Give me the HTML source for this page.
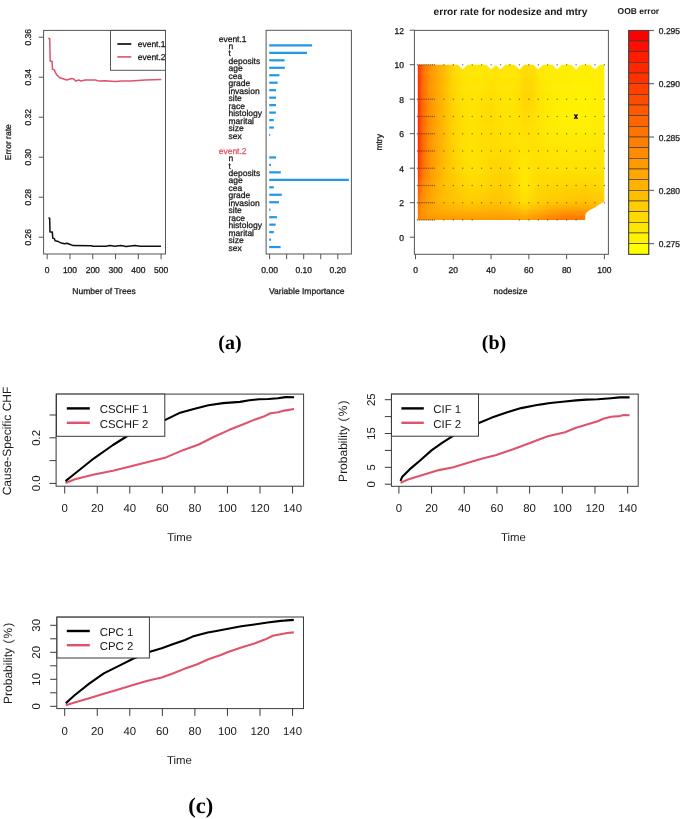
<!DOCTYPE html>
<html><head><meta charset="utf-8"><title>figure</title>
<style>html,body{margin:0;padding:0;background:#fff;width:685px;height:819px;overflow:hidden}svg{display:block}</style>
</head><body>
<svg width="685" height="819" viewBox="0 0 685 819" font-family="Liberation Sans, sans-serif" text-rendering="geometricPrecision">
<rect width="685" height="819" fill="#fff"/>
<defs><filter id="bt" x="-2%" y="-2%" width="104%" height="104%"><feGaussianBlur stdDeviation="0.5"/></filter><filter id="bb" x="-2%" y="-2%" width="104%" height="104%"><feGaussianBlur stdDeviation="0.3"/></filter></defs>
<g filter="url(#bt)">
<rect x="43.6" y="30.4" width="121.9" height="223.6" fill="none" stroke="#555" stroke-width="1"/>
<line x1="38.7" y1="237.2" x2="43.6" y2="237.2" stroke="#555" stroke-width="1"/>
<text x="31.34" y="237.2" font-size="8.5" text-anchor="middle" fill="#1a1a1a" stroke="#1a1a1a" stroke-width="0.28" font-family="Liberation Sans" transform="rotate(-90 31.34 237.2)">0.26</text>
<line x1="38.7" y1="197.2" x2="43.6" y2="197.2" stroke="#555" stroke-width="1"/>
<text x="31.34" y="197.2" font-size="8.5" text-anchor="middle" fill="#1a1a1a" stroke="#1a1a1a" stroke-width="0.28" font-family="Liberation Sans" transform="rotate(-90 31.34 197.2)">0.28</text>
<line x1="38.7" y1="157.2" x2="43.6" y2="157.2" stroke="#555" stroke-width="1"/>
<text x="31.34" y="157.2" font-size="8.5" text-anchor="middle" fill="#1a1a1a" stroke="#1a1a1a" stroke-width="0.28" font-family="Liberation Sans" transform="rotate(-90 31.34 157.2)">0.30</text>
<line x1="38.7" y1="117.2" x2="43.6" y2="117.2" stroke="#555" stroke-width="1"/>
<text x="31.34" y="117.2" font-size="8.5" text-anchor="middle" fill="#1a1a1a" stroke="#1a1a1a" stroke-width="0.28" font-family="Liberation Sans" transform="rotate(-90 31.34 117.2)">0.32</text>
<line x1="38.7" y1="77.2" x2="43.6" y2="77.2" stroke="#555" stroke-width="1"/>
<text x="31.34" y="77.2" font-size="8.5" text-anchor="middle" fill="#1a1a1a" stroke="#1a1a1a" stroke-width="0.28" font-family="Liberation Sans" transform="rotate(-90 31.34 77.2)">0.34</text>
<line x1="38.7" y1="37.2" x2="43.6" y2="37.2" stroke="#555" stroke-width="1"/>
<text x="31.34" y="37.2" font-size="8.5" text-anchor="middle" fill="#1a1a1a" stroke="#1a1a1a" stroke-width="0.28" font-family="Liberation Sans" transform="rotate(-90 31.34 37.2)">0.36</text>
<text x="10.74" y="142.2" font-size="8.5" text-anchor="middle" fill="#1a1a1a" stroke="#1a1a1a" stroke-width="0.28" font-family="Liberation Sans" transform="rotate(-90 10.74 142.2)">Error rate</text>
<line x1="47.2" y1="254" x2="47.2" y2="259.2" stroke="#555" stroke-width="1"/>
<text x="47.2" y="273.04" font-size="8.5" text-anchor="middle" fill="#1a1a1a" stroke="#1a1a1a" stroke-width="0.28" font-family="Liberation Sans">0</text>
<line x1="69.98" y1="254" x2="69.98" y2="259.2" stroke="#555" stroke-width="1"/>
<text x="69.98" y="273.04" font-size="8.5" text-anchor="middle" fill="#1a1a1a" stroke="#1a1a1a" stroke-width="0.28" font-family="Liberation Sans">100</text>
<line x1="92.76" y1="254" x2="92.76" y2="259.2" stroke="#555" stroke-width="1"/>
<text x="92.76" y="273.04" font-size="8.5" text-anchor="middle" fill="#1a1a1a" stroke="#1a1a1a" stroke-width="0.28" font-family="Liberation Sans">200</text>
<line x1="115.54" y1="254" x2="115.54" y2="259.2" stroke="#555" stroke-width="1"/>
<text x="115.54" y="273.04" font-size="8.5" text-anchor="middle" fill="#1a1a1a" stroke="#1a1a1a" stroke-width="0.28" font-family="Liberation Sans">300</text>
<line x1="138.32" y1="254" x2="138.32" y2="259.2" stroke="#555" stroke-width="1"/>
<text x="138.32" y="273.04" font-size="8.5" text-anchor="middle" fill="#1a1a1a" stroke="#1a1a1a" stroke-width="0.28" font-family="Liberation Sans">400</text>
<line x1="161.1" y1="254" x2="161.1" y2="259.2" stroke="#555" stroke-width="1"/>
<text x="161.1" y="273.04" font-size="8.5" text-anchor="middle" fill="#1a1a1a" stroke="#1a1a1a" stroke-width="0.28" font-family="Liberation Sans">500</text>
<text x="104" y="293.64" font-size="8.5" text-anchor="middle" fill="#1a1a1a" stroke="#1a1a1a" stroke-width="0.28" font-family="Liberation Sans">Number of Trees</text>
<rect x="110.5" y="30.4" width="55" height="39.9" fill="none" stroke="#555" stroke-width="1"/>
<line x1="117.3" y1="44" x2="131.3" y2="44" stroke="#000" stroke-width="1.6"/>
<line x1="117.3" y1="56.9" x2="131.3" y2="56.9" stroke="#DF536B" stroke-width="1.6"/>
<text x="137.7" y="47.04" font-size="8.5" text-anchor="start" fill="#1a1a1a" stroke="#1a1a1a" stroke-width="0.28" font-family="Liberation Sans">event.1</text>
<text x="137.7" y="59.94" font-size="8.5" text-anchor="start" fill="#1a1a1a" stroke="#1a1a1a" stroke-width="0.28" font-family="Liberation Sans">event.2</text>
<polyline points="48.4,218 49.7,218.2 50,232 52.3,232 52.8,238.1 54.3,238.6 55.1,240.7 57.4,241.2 60.4,242.7 64.5,243.7 67.1,243.2 69.6,244.2 73.2,245.6 91.1,245.8 93.1,246.3 100,246.3 106,246.3 110,245.6 115,246.3 121,245.6 126,246.4 135,245.6 140,246.3 150,246.3 161,246.2" fill="none" stroke="#111" stroke-width="1.5" stroke-linejoin="round"/>
<polyline points="48.2,38.4 49.7,38.4 50.2,61.2 52.1,61.2 52.5,69.3 54.3,69.9 55.3,72.4 56.9,75 59.4,77.5 66.6,80 71.7,78.5 73.7,79 75.8,81.1 78.8,80 80.9,80.9 85,80 95.2,80 99.3,81.1 105,80.8 115,81.5 122,80.9 130,81 138,80.4 145,80.1 153,79.7 161.3,79.6" fill="none" stroke="#DF536B" stroke-width="1.5" stroke-linejoin="round"/>
<rect x="266.1" y="30.3" width="85.3" height="223.7" fill="none" stroke="#555" stroke-width="1"/>
<line x1="269.6" y1="254" x2="269.6" y2="259.2" stroke="#555" stroke-width="1"/>
<line x1="286.65" y1="254" x2="286.65" y2="259.2" stroke="#555" stroke-width="1"/>
<line x1="303.7" y1="254" x2="303.7" y2="259.2" stroke="#555" stroke-width="1"/>
<line x1="320.75" y1="254" x2="320.75" y2="259.2" stroke="#555" stroke-width="1"/>
<line x1="337.8" y1="254" x2="337.8" y2="259.2" stroke="#555" stroke-width="1"/>
<text x="269.6" y="273.14" font-size="8.5" text-anchor="middle" fill="#1a1a1a" stroke="#1a1a1a" stroke-width="0.28" font-family="Liberation Sans">0.00</text>
<text x="303.7" y="273.14" font-size="8.5" text-anchor="middle" fill="#1a1a1a" stroke="#1a1a1a" stroke-width="0.28" font-family="Liberation Sans">0.10</text>
<text x="337.8" y="273.14" font-size="8.5" text-anchor="middle" fill="#1a1a1a" stroke="#1a1a1a" stroke-width="0.28" font-family="Liberation Sans">0.20</text>
<text x="306.8" y="293.74" font-size="8.5" text-anchor="middle" fill="#1a1a1a" stroke="#1a1a1a" stroke-width="0.28" font-family="Liberation Sans">Variable Importance</text>
<text x="218.7" y="41.54" font-size="8.5" text-anchor="start" fill="#1a1a1a" stroke="#1a1a1a" stroke-width="0.28" font-family="Liberation Sans">event.1</text>
<text x="218.7" y="153.59" font-size="8.5" text-anchor="start" fill="#DF536B" stroke="#DF536B" stroke-width="0.28" font-family="Liberation Sans">event.2</text>
<text x="228.5" y="49.01" font-size="8.5" text-anchor="start" fill="#1a1a1a" stroke="#1a1a1a" stroke-width="0.28" font-family="Liberation Sans">n</text>
<text x="228.5" y="161.06" font-size="8.5" text-anchor="start" fill="#1a1a1a" stroke="#1a1a1a" stroke-width="0.28" font-family="Liberation Sans">n</text>
<text x="228.5" y="56.48" font-size="8.5" text-anchor="start" fill="#1a1a1a" stroke="#1a1a1a" stroke-width="0.28" font-family="Liberation Sans">t</text>
<text x="228.5" y="168.53" font-size="8.5" text-anchor="start" fill="#1a1a1a" stroke="#1a1a1a" stroke-width="0.28" font-family="Liberation Sans">t</text>
<text x="228.5" y="63.95" font-size="8.5" text-anchor="start" fill="#1a1a1a" stroke="#1a1a1a" stroke-width="0.28" font-family="Liberation Sans">deposits</text>
<text x="228.5" y="176" font-size="8.5" text-anchor="start" fill="#1a1a1a" stroke="#1a1a1a" stroke-width="0.28" font-family="Liberation Sans">deposits</text>
<text x="228.5" y="71.42" font-size="8.5" text-anchor="start" fill="#1a1a1a" stroke="#1a1a1a" stroke-width="0.28" font-family="Liberation Sans">age</text>
<text x="228.5" y="183.47" font-size="8.5" text-anchor="start" fill="#1a1a1a" stroke="#1a1a1a" stroke-width="0.28" font-family="Liberation Sans">age</text>
<text x="228.5" y="78.89" font-size="8.5" text-anchor="start" fill="#1a1a1a" stroke="#1a1a1a" stroke-width="0.28" font-family="Liberation Sans">cea</text>
<text x="228.5" y="190.94" font-size="8.5" text-anchor="start" fill="#1a1a1a" stroke="#1a1a1a" stroke-width="0.28" font-family="Liberation Sans">cea</text>
<text x="228.5" y="86.36" font-size="8.5" text-anchor="start" fill="#1a1a1a" stroke="#1a1a1a" stroke-width="0.28" font-family="Liberation Sans">grade</text>
<text x="228.5" y="198.41" font-size="8.5" text-anchor="start" fill="#1a1a1a" stroke="#1a1a1a" stroke-width="0.28" font-family="Liberation Sans">grade</text>
<text x="228.5" y="93.83" font-size="8.5" text-anchor="start" fill="#1a1a1a" stroke="#1a1a1a" stroke-width="0.28" font-family="Liberation Sans">invasion</text>
<text x="228.5" y="205.88" font-size="8.5" text-anchor="start" fill="#1a1a1a" stroke="#1a1a1a" stroke-width="0.28" font-family="Liberation Sans">invasion</text>
<text x="228.5" y="101.3" font-size="8.5" text-anchor="start" fill="#1a1a1a" stroke="#1a1a1a" stroke-width="0.28" font-family="Liberation Sans">site</text>
<text x="228.5" y="213.35" font-size="8.5" text-anchor="start" fill="#1a1a1a" stroke="#1a1a1a" stroke-width="0.28" font-family="Liberation Sans">site</text>
<text x="228.5" y="108.77" font-size="8.5" text-anchor="start" fill="#1a1a1a" stroke="#1a1a1a" stroke-width="0.28" font-family="Liberation Sans">race</text>
<text x="228.5" y="220.82" font-size="8.5" text-anchor="start" fill="#1a1a1a" stroke="#1a1a1a" stroke-width="0.28" font-family="Liberation Sans">race</text>
<text x="228.5" y="116.24" font-size="8.5" text-anchor="start" fill="#1a1a1a" stroke="#1a1a1a" stroke-width="0.28" font-family="Liberation Sans">histology</text>
<text x="228.5" y="228.29" font-size="8.5" text-anchor="start" fill="#1a1a1a" stroke="#1a1a1a" stroke-width="0.28" font-family="Liberation Sans">histology</text>
<text x="228.5" y="123.71" font-size="8.5" text-anchor="start" fill="#1a1a1a" stroke="#1a1a1a" stroke-width="0.28" font-family="Liberation Sans">marital</text>
<text x="228.5" y="235.76" font-size="8.5" text-anchor="start" fill="#1a1a1a" stroke="#1a1a1a" stroke-width="0.28" font-family="Liberation Sans">marital</text>
<text x="228.5" y="131.18" font-size="8.5" text-anchor="start" fill="#1a1a1a" stroke="#1a1a1a" stroke-width="0.28" font-family="Liberation Sans">size</text>
<text x="228.5" y="243.23" font-size="8.5" text-anchor="start" fill="#1a1a1a" stroke="#1a1a1a" stroke-width="0.28" font-family="Liberation Sans">size</text>
<text x="228.5" y="138.65" font-size="8.5" text-anchor="start" fill="#1a1a1a" stroke="#1a1a1a" stroke-width="0.28" font-family="Liberation Sans">sex</text>
<text x="228.5" y="250.7" font-size="8.5" text-anchor="start" fill="#1a1a1a" stroke="#1a1a1a" stroke-width="0.28" font-family="Liberation Sans">sex</text>
<line x1="269.2" y1="45.37" x2="312.1" y2="45.37" stroke="#2297E6" stroke-width="2.2"/>
<line x1="269.2" y1="157.42" x2="276.1" y2="157.42" stroke="#2297E6" stroke-width="2.2"/>
<line x1="269.2" y1="52.84" x2="307" y2="52.84" stroke="#2297E6" stroke-width="2.2"/>
<line x1="269.2" y1="164.89" x2="271" y2="164.89" stroke="#2297E6" stroke-width="2.2"/>
<line x1="269.2" y1="60.31" x2="284.6" y2="60.31" stroke="#2297E6" stroke-width="2.2"/>
<line x1="269.2" y1="172.36" x2="280.8" y2="172.36" stroke="#2297E6" stroke-width="2.2"/>
<line x1="269.2" y1="67.78" x2="284.8" y2="67.78" stroke="#2297E6" stroke-width="2.2"/>
<line x1="269.2" y1="179.83" x2="348.8" y2="179.83" stroke="#2297E6" stroke-width="2.2"/>
<line x1="269.2" y1="75.25" x2="279.4" y2="75.25" stroke="#2297E6" stroke-width="2.2"/>
<line x1="269.2" y1="187.3" x2="273.8" y2="187.3" stroke="#2297E6" stroke-width="2.2"/>
<line x1="269.2" y1="82.72" x2="277.6" y2="82.72" stroke="#2297E6" stroke-width="2.2"/>
<line x1="269.2" y1="194.77" x2="281.8" y2="194.77" stroke="#2297E6" stroke-width="2.2"/>
<line x1="269.2" y1="90.19" x2="276" y2="90.19" stroke="#2297E6" stroke-width="2.2"/>
<line x1="269.2" y1="202.24" x2="279" y2="202.24" stroke="#2297E6" stroke-width="2.2"/>
<line x1="269.2" y1="97.66" x2="276" y2="97.66" stroke="#2297E6" stroke-width="2.2"/>
<line x1="269.2" y1="209.71" x2="270.5" y2="209.71" stroke="#2297E6" stroke-width="2.2"/>
<line x1="269.2" y1="105.13" x2="276" y2="105.13" stroke="#2297E6" stroke-width="2.2"/>
<line x1="269.2" y1="217.18" x2="276.9" y2="217.18" stroke="#2297E6" stroke-width="2.2"/>
<line x1="269.2" y1="112.6" x2="275.9" y2="112.6" stroke="#2297E6" stroke-width="2.2"/>
<line x1="269.2" y1="224.65" x2="275.7" y2="224.65" stroke="#2297E6" stroke-width="2.2"/>
<line x1="269.2" y1="120.07" x2="273.8" y2="120.07" stroke="#2297E6" stroke-width="2.2"/>
<line x1="269.2" y1="232.12" x2="273.8" y2="232.12" stroke="#2297E6" stroke-width="2.2"/>
<line x1="269.2" y1="127.54" x2="273.8" y2="127.54" stroke="#2297E6" stroke-width="2.2"/>
<line x1="269.2" y1="239.59" x2="271" y2="239.59" stroke="#2297E6" stroke-width="2.2"/>
<line x1="269.2" y1="135.01" x2="270.2" y2="135.01" stroke="#2297E6" stroke-width="2.2"/>
<line x1="269.2" y1="247.06" x2="280.6" y2="247.06" stroke="#2297E6" stroke-width="2.2"/>
<text x="510.5" y="14.65" font-size="10.2" text-anchor="middle" font-weight="bold" fill="#1a1a1a" font-family="Liberation Sans">error rate for nodesize and mtry</text>
<text x="638.4" y="13.54" font-size="8.5" text-anchor="middle" font-weight="bold" fill="#1a1a1a" font-family="Liberation Sans">OOB error</text>
<line x1="409.7" y1="237.2" x2="414.4" y2="237.2" stroke="#555" stroke-width="1"/>
<text x="403.9" y="240.94" font-size="8.5" text-anchor="end" fill="#1a1a1a" stroke="#1a1a1a" stroke-width="0.28" font-family="Liberation Sans">0</text>
<line x1="409.7" y1="202.7" x2="414.4" y2="202.7" stroke="#555" stroke-width="1"/>
<text x="403.9" y="206.44" font-size="8.5" text-anchor="end" fill="#1a1a1a" stroke="#1a1a1a" stroke-width="0.28" font-family="Liberation Sans">2</text>
<line x1="409.7" y1="168.2" x2="414.4" y2="168.2" stroke="#555" stroke-width="1"/>
<text x="403.9" y="171.94" font-size="8.5" text-anchor="end" fill="#1a1a1a" stroke="#1a1a1a" stroke-width="0.28" font-family="Liberation Sans">4</text>
<line x1="409.7" y1="133.7" x2="414.4" y2="133.7" stroke="#555" stroke-width="1"/>
<text x="403.9" y="137.44" font-size="8.5" text-anchor="end" fill="#1a1a1a" stroke="#1a1a1a" stroke-width="0.28" font-family="Liberation Sans">6</text>
<line x1="409.7" y1="99.2" x2="414.4" y2="99.2" stroke="#555" stroke-width="1"/>
<text x="403.9" y="102.94" font-size="8.5" text-anchor="end" fill="#1a1a1a" stroke="#1a1a1a" stroke-width="0.28" font-family="Liberation Sans">8</text>
<line x1="409.7" y1="64.7" x2="414.4" y2="64.7" stroke="#555" stroke-width="1"/>
<text x="403.9" y="68.44" font-size="8.5" text-anchor="end" fill="#1a1a1a" stroke="#1a1a1a" stroke-width="0.28" font-family="Liberation Sans">10</text>
<line x1="409.7" y1="30.2" x2="414.4" y2="30.2" stroke="#555" stroke-width="1"/>
<text x="403.9" y="33.94" font-size="8.5" text-anchor="end" fill="#1a1a1a" stroke="#1a1a1a" stroke-width="0.28" font-family="Liberation Sans">12</text>
<text x="382.04" y="142.3" font-size="8.5" text-anchor="middle" fill="#1a1a1a" stroke="#1a1a1a" stroke-width="0.28" font-family="Liberation Sans" transform="rotate(-90 382.04 142.3)">mtry</text>
<line x1="415.5" y1="254.3" x2="415.5" y2="259.2" stroke="#555" stroke-width="1"/>
<text x="415.5" y="273.04" font-size="8.5" text-anchor="middle" fill="#1a1a1a" stroke="#1a1a1a" stroke-width="0.28" font-family="Liberation Sans">0</text>
<line x1="453.28" y1="254.3" x2="453.28" y2="259.2" stroke="#555" stroke-width="1"/>
<text x="453.28" y="273.04" font-size="8.5" text-anchor="middle" fill="#1a1a1a" stroke="#1a1a1a" stroke-width="0.28" font-family="Liberation Sans">20</text>
<line x1="491.06" y1="254.3" x2="491.06" y2="259.2" stroke="#555" stroke-width="1"/>
<text x="491.06" y="273.04" font-size="8.5" text-anchor="middle" fill="#1a1a1a" stroke="#1a1a1a" stroke-width="0.28" font-family="Liberation Sans">40</text>
<line x1="528.84" y1="254.3" x2="528.84" y2="259.2" stroke="#555" stroke-width="1"/>
<text x="528.84" y="273.04" font-size="8.5" text-anchor="middle" fill="#1a1a1a" stroke="#1a1a1a" stroke-width="0.28" font-family="Liberation Sans">60</text>
<line x1="566.62" y1="254.3" x2="566.62" y2="259.2" stroke="#555" stroke-width="1"/>
<text x="566.62" y="273.04" font-size="8.5" text-anchor="middle" fill="#1a1a1a" stroke="#1a1a1a" stroke-width="0.28" font-family="Liberation Sans">80</text>
<line x1="604.4" y1="254.3" x2="604.4" y2="259.2" stroke="#555" stroke-width="1"/>
<text x="604.4" y="273.04" font-size="8.5" text-anchor="middle" fill="#1a1a1a" stroke="#1a1a1a" stroke-width="0.28" font-family="Liberation Sans">100</text>
<text x="510.5" y="293.54" font-size="8.5" text-anchor="middle" fill="#1a1a1a" stroke="#1a1a1a" stroke-width="0.28" font-family="Liberation Sans">nodesize</text>
<defs>
<linearGradient id="hg0" gradientUnits="userSpaceOnUse" x1="417.39" y1="0" x2="604.4" y2="0">
<stop offset="0%" stop-color="#ff6e00"/>
<stop offset="0.51%" stop-color="#ff7800"/>
<stop offset="1.01%" stop-color="#ff8200"/>
<stop offset="2.02%" stop-color="#ff8a00"/>
<stop offset="3.03%" stop-color="#ff9100"/>
<stop offset="4.04%" stop-color="#ff9300"/>
<stop offset="5.05%" stop-color="#ff9400"/>
<stop offset="6.06%" stop-color="#ff9600"/>
<stop offset="7.07%" stop-color="#ff9600"/>
<stop offset="9.09%" stop-color="#ff9600"/>
<stop offset="11.11%" stop-color="#ff9600"/>
<stop offset="14.14%" stop-color="#ff9600"/>
<stop offset="17.17%" stop-color="#ff9600"/>
<stop offset="19.19%" stop-color="#ff9600"/>
<stop offset="21.72%" stop-color="#ff9600"/>
<stop offset="24.24%" stop-color="#ff9600"/>
<stop offset="26.77%" stop-color="#ff9600"/>
<stop offset="29.29%" stop-color="#ff9600"/>
<stop offset="31.82%" stop-color="#ff9600"/>
<stop offset="34.34%" stop-color="#ff9600"/>
<stop offset="36.87%" stop-color="#ff9600"/>
<stop offset="39.39%" stop-color="#ff9600"/>
<stop offset="41.92%" stop-color="#ff9500"/>
<stop offset="44.44%" stop-color="#ff9400"/>
<stop offset="46.97%" stop-color="#ff9400"/>
<stop offset="49.49%" stop-color="#ff9400"/>
<stop offset="52.02%" stop-color="#ff9600"/>
<stop offset="54.55%" stop-color="#ff9800"/>
<stop offset="56.06%" stop-color="#ff9a00"/>
<stop offset="57.58%" stop-color="#ff9b00"/>
<stop offset="59.6%" stop-color="#ff9600"/>
<stop offset="61.62%" stop-color="#ff9100"/>
<stop offset="63.64%" stop-color="#ff8e00"/>
<stop offset="65.66%" stop-color="#ff8a00"/>
<stop offset="67.68%" stop-color="#ff8400"/>
<stop offset="69.7%" stop-color="#ff7d00"/>
<stop offset="74.75%" stop-color="#ff7600"/>
<stop offset="79.8%" stop-color="#ff6e00"/>
<stop offset="84.85%" stop-color="#ff7000"/>
<stop offset="89.9%" stop-color="#ff7300"/>
<stop offset="94.95%" stop-color="#ff8000"/>
<stop offset="100%" stop-color="#ff8c00"/>
</linearGradient>
<linearGradient id="hg1" gradientUnits="userSpaceOnUse" x1="417.39" y1="0" x2="604.4" y2="0">
<stop offset="0%" stop-color="#ff6c00"/>
<stop offset="0.51%" stop-color="#ff7600"/>
<stop offset="1.01%" stop-color="#ff8100"/>
<stop offset="2.02%" stop-color="#ff8a00"/>
<stop offset="3.03%" stop-color="#ff9200"/>
<stop offset="4.04%" stop-color="#ff9500"/>
<stop offset="5.05%" stop-color="#ff9800"/>
<stop offset="6.06%" stop-color="#ff9a00"/>
<stop offset="7.07%" stop-color="#ff9b00"/>
<stop offset="9.09%" stop-color="#ff9e00"/>
<stop offset="11.11%" stop-color="#ff9e00"/>
<stop offset="14.14%" stop-color="#ffa000"/>
<stop offset="17.17%" stop-color="#ffa100"/>
<stop offset="19.19%" stop-color="#ffa100"/>
<stop offset="21.72%" stop-color="#ffa200"/>
<stop offset="24.24%" stop-color="#ffa200"/>
<stop offset="26.77%" stop-color="#ffa200"/>
<stop offset="29.29%" stop-color="#ffa200"/>
<stop offset="31.82%" stop-color="#ffa200"/>
<stop offset="34.34%" stop-color="#ffa200"/>
<stop offset="36.87%" stop-color="#ffa200"/>
<stop offset="39.39%" stop-color="#ffa100"/>
<stop offset="41.92%" stop-color="#ffa000"/>
<stop offset="44.44%" stop-color="#ffa000"/>
<stop offset="46.97%" stop-color="#ffa100"/>
<stop offset="49.49%" stop-color="#ffa200"/>
<stop offset="52.02%" stop-color="#ffa400"/>
<stop offset="54.55%" stop-color="#ffa700"/>
<stop offset="56.06%" stop-color="#ffaa00"/>
<stop offset="57.58%" stop-color="#ffac00"/>
<stop offset="59.6%" stop-color="#ffa700"/>
<stop offset="61.62%" stop-color="#ffa200"/>
<stop offset="63.64%" stop-color="#ff9e00"/>
<stop offset="65.66%" stop-color="#ff9b00"/>
<stop offset="67.68%" stop-color="#ff9500"/>
<stop offset="69.7%" stop-color="#ff9000"/>
<stop offset="74.75%" stop-color="#ff8800"/>
<stop offset="79.8%" stop-color="#ff8100"/>
<stop offset="84.85%" stop-color="#ff8300"/>
<stop offset="89.9%" stop-color="#ff8400"/>
<stop offset="94.95%" stop-color="#ff8e00"/>
<stop offset="100%" stop-color="#ff9800"/>
</linearGradient>
<linearGradient id="hg2" gradientUnits="userSpaceOnUse" x1="417.39" y1="0" x2="604.4" y2="0">
<stop offset="0%" stop-color="#ff6900"/>
<stop offset="0.51%" stop-color="#ff7400"/>
<stop offset="1.01%" stop-color="#ff8000"/>
<stop offset="2.02%" stop-color="#ff8a00"/>
<stop offset="3.03%" stop-color="#ff9400"/>
<stop offset="4.04%" stop-color="#ff9700"/>
<stop offset="5.05%" stop-color="#ff9b00"/>
<stop offset="6.06%" stop-color="#ff9e00"/>
<stop offset="7.07%" stop-color="#ffa000"/>
<stop offset="9.09%" stop-color="#ffa500"/>
<stop offset="11.11%" stop-color="#ffa700"/>
<stop offset="14.14%" stop-color="#ffaa00"/>
<stop offset="17.17%" stop-color="#ffab00"/>
<stop offset="19.19%" stop-color="#ffac00"/>
<stop offset="21.72%" stop-color="#ffae00"/>
<stop offset="24.24%" stop-color="#ffaf00"/>
<stop offset="26.77%" stop-color="#ffaf00"/>
<stop offset="29.29%" stop-color="#ffaf00"/>
<stop offset="31.82%" stop-color="#ffaf00"/>
<stop offset="34.34%" stop-color="#ffaf00"/>
<stop offset="36.87%" stop-color="#ffae00"/>
<stop offset="39.39%" stop-color="#ffac00"/>
<stop offset="41.92%" stop-color="#ffac00"/>
<stop offset="44.44%" stop-color="#ffac00"/>
<stop offset="46.97%" stop-color="#ffae00"/>
<stop offset="49.49%" stop-color="#ffaf00"/>
<stop offset="52.02%" stop-color="#ffb200"/>
<stop offset="54.55%" stop-color="#ffb600"/>
<stop offset="56.06%" stop-color="#ffba00"/>
<stop offset="57.58%" stop-color="#ffbe00"/>
<stop offset="59.6%" stop-color="#ffb800"/>
<stop offset="61.62%" stop-color="#ffb200"/>
<stop offset="63.64%" stop-color="#ffaf00"/>
<stop offset="65.66%" stop-color="#ffac00"/>
<stop offset="67.68%" stop-color="#ffa700"/>
<stop offset="69.7%" stop-color="#ffa200"/>
<stop offset="74.75%" stop-color="#ff9b00"/>
<stop offset="79.8%" stop-color="#ff9400"/>
<stop offset="84.85%" stop-color="#ff9500"/>
<stop offset="89.9%" stop-color="#ff9600"/>
<stop offset="94.95%" stop-color="#ff9e00"/>
<stop offset="100%" stop-color="#ffa500"/>
</linearGradient>
<linearGradient id="hg3" gradientUnits="userSpaceOnUse" x1="417.39" y1="0" x2="604.4" y2="0">
<stop offset="0%" stop-color="#ff6200"/>
<stop offset="0.51%" stop-color="#ff6f00"/>
<stop offset="1.01%" stop-color="#ff7c00"/>
<stop offset="2.02%" stop-color="#ff8700"/>
<stop offset="3.03%" stop-color="#ff9200"/>
<stop offset="4.04%" stop-color="#ff9700"/>
<stop offset="5.05%" stop-color="#ff9b00"/>
<stop offset="6.06%" stop-color="#ff9f00"/>
<stop offset="7.07%" stop-color="#ffa200"/>
<stop offset="9.09%" stop-color="#ffa800"/>
<stop offset="11.11%" stop-color="#ffac00"/>
<stop offset="14.14%" stop-color="#ffb200"/>
<stop offset="17.17%" stop-color="#ffb400"/>
<stop offset="19.19%" stop-color="#ffb600"/>
<stop offset="21.72%" stop-color="#ffb800"/>
<stop offset="24.24%" stop-color="#ffba00"/>
<stop offset="26.77%" stop-color="#ffbb00"/>
<stop offset="29.29%" stop-color="#ffbc00"/>
<stop offset="31.82%" stop-color="#ffbb00"/>
<stop offset="34.34%" stop-color="#ffba00"/>
<stop offset="36.87%" stop-color="#ffb900"/>
<stop offset="39.39%" stop-color="#ffb800"/>
<stop offset="41.92%" stop-color="#ffb800"/>
<stop offset="44.44%" stop-color="#ffb800"/>
<stop offset="46.97%" stop-color="#ffba00"/>
<stop offset="49.49%" stop-color="#ffbc00"/>
<stop offset="52.02%" stop-color="#ffc000"/>
<stop offset="54.55%" stop-color="#ffc500"/>
<stop offset="56.06%" stop-color="#ffca00"/>
<stop offset="57.58%" stop-color="#ffce00"/>
<stop offset="59.6%" stop-color="#ffc800"/>
<stop offset="61.62%" stop-color="#ffc200"/>
<stop offset="63.64%" stop-color="#ffbf00"/>
<stop offset="65.66%" stop-color="#ffbc00"/>
<stop offset="67.68%" stop-color="#ffb900"/>
<stop offset="69.7%" stop-color="#ffb500"/>
<stop offset="74.75%" stop-color="#ffb000"/>
<stop offset="79.8%" stop-color="#ffac00"/>
<stop offset="84.85%" stop-color="#ffab00"/>
<stop offset="89.9%" stop-color="#ffaa00"/>
<stop offset="94.95%" stop-color="#ffb000"/>
<stop offset="100%" stop-color="#ffb600"/>
</linearGradient>
<linearGradient id="hg4" gradientUnits="userSpaceOnUse" x1="417.39" y1="0" x2="604.4" y2="0">
<stop offset="0%" stop-color="#ff5a00"/>
<stop offset="0.51%" stop-color="#ff6900"/>
<stop offset="1.01%" stop-color="#ff7800"/>
<stop offset="2.02%" stop-color="#ff8400"/>
<stop offset="3.03%" stop-color="#ff9100"/>
<stop offset="4.04%" stop-color="#ff9600"/>
<stop offset="5.05%" stop-color="#ff9b00"/>
<stop offset="6.06%" stop-color="#ffa000"/>
<stop offset="7.07%" stop-color="#ffa400"/>
<stop offset="9.09%" stop-color="#ffac00"/>
<stop offset="11.11%" stop-color="#ffb100"/>
<stop offset="14.14%" stop-color="#ffb900"/>
<stop offset="17.17%" stop-color="#ffbd00"/>
<stop offset="19.19%" stop-color="#ffc000"/>
<stop offset="21.72%" stop-color="#ffc300"/>
<stop offset="24.24%" stop-color="#ffc600"/>
<stop offset="26.77%" stop-color="#ffc700"/>
<stop offset="29.29%" stop-color="#ffc800"/>
<stop offset="31.82%" stop-color="#ffc700"/>
<stop offset="34.34%" stop-color="#ffc600"/>
<stop offset="36.87%" stop-color="#ffc400"/>
<stop offset="39.39%" stop-color="#ffc300"/>
<stop offset="41.92%" stop-color="#ffc300"/>
<stop offset="44.44%" stop-color="#ffc300"/>
<stop offset="46.97%" stop-color="#ffc600"/>
<stop offset="49.49%" stop-color="#ffc800"/>
<stop offset="52.02%" stop-color="#ffce00"/>
<stop offset="54.55%" stop-color="#ffd400"/>
<stop offset="56.06%" stop-color="#ffd900"/>
<stop offset="57.58%" stop-color="#ffde00"/>
<stop offset="59.6%" stop-color="#ffd800"/>
<stop offset="61.62%" stop-color="#ffd200"/>
<stop offset="63.64%" stop-color="#ffd000"/>
<stop offset="65.66%" stop-color="#ffcd00"/>
<stop offset="67.68%" stop-color="#ffca00"/>
<stop offset="69.7%" stop-color="#ffc800"/>
<stop offset="74.75%" stop-color="#ffc600"/>
<stop offset="79.8%" stop-color="#ffc300"/>
<stop offset="84.85%" stop-color="#ffc000"/>
<stop offset="89.9%" stop-color="#ffbe00"/>
<stop offset="94.95%" stop-color="#ffc300"/>
<stop offset="100%" stop-color="#ffc800"/>
</linearGradient>
<linearGradient id="hg5" gradientUnits="userSpaceOnUse" x1="417.39" y1="0" x2="604.4" y2="0">
<stop offset="0%" stop-color="#ff5200"/>
<stop offset="0.51%" stop-color="#ff6300"/>
<stop offset="1.01%" stop-color="#ff7300"/>
<stop offset="2.02%" stop-color="#ff8100"/>
<stop offset="3.03%" stop-color="#ff8e00"/>
<stop offset="4.04%" stop-color="#ff9400"/>
<stop offset="5.05%" stop-color="#ff9900"/>
<stop offset="6.06%" stop-color="#ff9f00"/>
<stop offset="7.07%" stop-color="#ffa300"/>
<stop offset="9.09%" stop-color="#ffac00"/>
<stop offset="11.11%" stop-color="#ffb100"/>
<stop offset="14.14%" stop-color="#ffba00"/>
<stop offset="17.17%" stop-color="#ffbf00"/>
<stop offset="19.19%" stop-color="#ffc200"/>
<stop offset="21.72%" stop-color="#ffc600"/>
<stop offset="24.24%" stop-color="#ffc900"/>
<stop offset="26.77%" stop-color="#ffcb00"/>
<stop offset="29.29%" stop-color="#ffcc00"/>
<stop offset="31.82%" stop-color="#ffcb00"/>
<stop offset="34.34%" stop-color="#ffca00"/>
<stop offset="36.87%" stop-color="#ffc800"/>
<stop offset="39.39%" stop-color="#ffc700"/>
<stop offset="41.92%" stop-color="#ffc600"/>
<stop offset="44.44%" stop-color="#ffc600"/>
<stop offset="46.97%" stop-color="#ffc800"/>
<stop offset="49.49%" stop-color="#ffca00"/>
<stop offset="52.02%" stop-color="#ffd100"/>
<stop offset="54.55%" stop-color="#ffd700"/>
<stop offset="56.06%" stop-color="#ffdc00"/>
<stop offset="57.58%" stop-color="#ffe000"/>
<stop offset="59.6%" stop-color="#ffdb00"/>
<stop offset="61.62%" stop-color="#ffd500"/>
<stop offset="63.64%" stop-color="#ffd200"/>
<stop offset="65.66%" stop-color="#ffd000"/>
<stop offset="67.68%" stop-color="#ffce00"/>
<stop offset="69.7%" stop-color="#ffcc00"/>
<stop offset="74.75%" stop-color="#ffca00"/>
<stop offset="79.8%" stop-color="#ffc700"/>
<stop offset="84.85%" stop-color="#ffc500"/>
<stop offset="89.9%" stop-color="#ffc400"/>
<stop offset="94.95%" stop-color="#ffc800"/>
<stop offset="100%" stop-color="#ffcc00"/>
</linearGradient>
<linearGradient id="hg6" gradientUnits="userSpaceOnUse" x1="417.39" y1="0" x2="604.4" y2="0">
<stop offset="0%" stop-color="#ff4b00"/>
<stop offset="0.51%" stop-color="#ff5c00"/>
<stop offset="1.01%" stop-color="#ff6e00"/>
<stop offset="2.02%" stop-color="#ff7d00"/>
<stop offset="3.03%" stop-color="#ff8c00"/>
<stop offset="4.04%" stop-color="#ff9200"/>
<stop offset="5.05%" stop-color="#ff9800"/>
<stop offset="6.06%" stop-color="#ff9e00"/>
<stop offset="7.07%" stop-color="#ffa200"/>
<stop offset="9.09%" stop-color="#ffab00"/>
<stop offset="11.11%" stop-color="#ffb200"/>
<stop offset="14.14%" stop-color="#ffbc00"/>
<stop offset="17.17%" stop-color="#ffc100"/>
<stop offset="19.19%" stop-color="#ffc400"/>
<stop offset="21.72%" stop-color="#ffc800"/>
<stop offset="24.24%" stop-color="#ffcc00"/>
<stop offset="26.77%" stop-color="#ffce00"/>
<stop offset="29.29%" stop-color="#ffd100"/>
<stop offset="31.82%" stop-color="#ffd000"/>
<stop offset="34.34%" stop-color="#ffce00"/>
<stop offset="36.87%" stop-color="#ffcc00"/>
<stop offset="39.39%" stop-color="#ffca00"/>
<stop offset="41.92%" stop-color="#ffc900"/>
<stop offset="44.44%" stop-color="#ffc800"/>
<stop offset="46.97%" stop-color="#ffca00"/>
<stop offset="49.49%" stop-color="#ffcd00"/>
<stop offset="52.02%" stop-color="#ffd400"/>
<stop offset="54.55%" stop-color="#ffda00"/>
<stop offset="56.06%" stop-color="#ffdf00"/>
<stop offset="57.58%" stop-color="#ffe300"/>
<stop offset="59.6%" stop-color="#ffde00"/>
<stop offset="61.62%" stop-color="#ffd800"/>
<stop offset="63.64%" stop-color="#ffd500"/>
<stop offset="65.66%" stop-color="#ffd200"/>
<stop offset="67.68%" stop-color="#ffd100"/>
<stop offset="69.7%" stop-color="#ffd000"/>
<stop offset="74.75%" stop-color="#ffce00"/>
<stop offset="79.8%" stop-color="#ffcc00"/>
<stop offset="84.85%" stop-color="#ffca00"/>
<stop offset="89.9%" stop-color="#ffc900"/>
<stop offset="94.95%" stop-color="#ffcd00"/>
<stop offset="100%" stop-color="#ffd100"/>
</linearGradient>
<linearGradient id="hg7" gradientUnits="userSpaceOnUse" x1="417.39" y1="0" x2="604.4" y2="0">
<stop offset="0%" stop-color="#ff4400"/>
<stop offset="0.51%" stop-color="#ff5600"/>
<stop offset="1.01%" stop-color="#ff6900"/>
<stop offset="2.02%" stop-color="#ff7900"/>
<stop offset="3.03%" stop-color="#ff8a00"/>
<stop offset="4.04%" stop-color="#ff9000"/>
<stop offset="5.05%" stop-color="#ff9600"/>
<stop offset="6.06%" stop-color="#ff9c00"/>
<stop offset="7.07%" stop-color="#ffa100"/>
<stop offset="9.09%" stop-color="#ffaa00"/>
<stop offset="11.11%" stop-color="#ffb200"/>
<stop offset="14.14%" stop-color="#ffbd00"/>
<stop offset="17.17%" stop-color="#ffc200"/>
<stop offset="19.19%" stop-color="#ffc600"/>
<stop offset="21.72%" stop-color="#ffca00"/>
<stop offset="24.24%" stop-color="#ffcf00"/>
<stop offset="26.77%" stop-color="#ffd200"/>
<stop offset="29.29%" stop-color="#ffd600"/>
<stop offset="31.82%" stop-color="#ffd400"/>
<stop offset="34.34%" stop-color="#ffd300"/>
<stop offset="36.87%" stop-color="#ffd000"/>
<stop offset="39.39%" stop-color="#ffce00"/>
<stop offset="41.92%" stop-color="#ffcc00"/>
<stop offset="44.44%" stop-color="#ffca00"/>
<stop offset="46.97%" stop-color="#ffcd00"/>
<stop offset="49.49%" stop-color="#ffd000"/>
<stop offset="52.02%" stop-color="#ffd700"/>
<stop offset="54.55%" stop-color="#ffde00"/>
<stop offset="56.06%" stop-color="#ffe200"/>
<stop offset="57.58%" stop-color="#ffe600"/>
<stop offset="59.6%" stop-color="#ffe000"/>
<stop offset="61.62%" stop-color="#ffdb00"/>
<stop offset="63.64%" stop-color="#ffd800"/>
<stop offset="65.66%" stop-color="#ffd400"/>
<stop offset="67.68%" stop-color="#ffd400"/>
<stop offset="69.7%" stop-color="#ffd300"/>
<stop offset="74.75%" stop-color="#ffd200"/>
<stop offset="79.8%" stop-color="#ffd000"/>
<stop offset="84.85%" stop-color="#ffcf00"/>
<stop offset="89.9%" stop-color="#ffce00"/>
<stop offset="94.95%" stop-color="#ffd200"/>
<stop offset="100%" stop-color="#ffd600"/>
</linearGradient>
<linearGradient id="hg8" gradientUnits="userSpaceOnUse" x1="417.39" y1="0" x2="604.4" y2="0">
<stop offset="0%" stop-color="#ff3c00"/>
<stop offset="0.51%" stop-color="#ff5000"/>
<stop offset="1.01%" stop-color="#ff6400"/>
<stop offset="2.02%" stop-color="#ff7600"/>
<stop offset="3.03%" stop-color="#ff8700"/>
<stop offset="4.04%" stop-color="#ff8e00"/>
<stop offset="5.05%" stop-color="#ff9400"/>
<stop offset="6.06%" stop-color="#ff9b00"/>
<stop offset="7.07%" stop-color="#ffa000"/>
<stop offset="9.09%" stop-color="#ffaa00"/>
<stop offset="11.11%" stop-color="#ffb200"/>
<stop offset="14.14%" stop-color="#ffbe00"/>
<stop offset="17.17%" stop-color="#ffc400"/>
<stop offset="19.19%" stop-color="#ffc800"/>
<stop offset="21.72%" stop-color="#ffcd00"/>
<stop offset="24.24%" stop-color="#ffd200"/>
<stop offset="26.77%" stop-color="#ffd600"/>
<stop offset="29.29%" stop-color="#ffda00"/>
<stop offset="31.82%" stop-color="#ffd800"/>
<stop offset="34.34%" stop-color="#ffd700"/>
<stop offset="36.87%" stop-color="#ffd400"/>
<stop offset="39.39%" stop-color="#ffd200"/>
<stop offset="41.92%" stop-color="#ffd000"/>
<stop offset="44.44%" stop-color="#ffcd00"/>
<stop offset="46.97%" stop-color="#ffd000"/>
<stop offset="49.49%" stop-color="#ffd200"/>
<stop offset="52.02%" stop-color="#ffda00"/>
<stop offset="54.55%" stop-color="#ffe100"/>
<stop offset="56.06%" stop-color="#ffe400"/>
<stop offset="57.58%" stop-color="#ffe800"/>
<stop offset="59.6%" stop-color="#ffe300"/>
<stop offset="61.62%" stop-color="#ffde00"/>
<stop offset="63.64%" stop-color="#ffda00"/>
<stop offset="65.66%" stop-color="#ffd700"/>
<stop offset="67.68%" stop-color="#ffd700"/>
<stop offset="69.7%" stop-color="#ffd700"/>
<stop offset="74.75%" stop-color="#ffd600"/>
<stop offset="79.8%" stop-color="#ffd400"/>
<stop offset="84.85%" stop-color="#ffd400"/>
<stop offset="89.9%" stop-color="#ffd400"/>
<stop offset="94.95%" stop-color="#ffd700"/>
<stop offset="100%" stop-color="#ffda00"/>
</linearGradient>
<linearGradient id="hg9" gradientUnits="userSpaceOnUse" x1="417.39" y1="0" x2="604.4" y2="0">
<stop offset="0%" stop-color="#ff3400"/>
<stop offset="0.51%" stop-color="#ff4800"/>
<stop offset="1.01%" stop-color="#ff5c00"/>
<stop offset="2.02%" stop-color="#ff6f00"/>
<stop offset="3.03%" stop-color="#ff8100"/>
<stop offset="4.04%" stop-color="#ff8900"/>
<stop offset="5.05%" stop-color="#ff9000"/>
<stop offset="6.06%" stop-color="#ff9800"/>
<stop offset="7.07%" stop-color="#ff9d00"/>
<stop offset="9.09%" stop-color="#ffa800"/>
<stop offset="11.11%" stop-color="#ffb100"/>
<stop offset="14.14%" stop-color="#ffbe00"/>
<stop offset="17.17%" stop-color="#ffc500"/>
<stop offset="19.19%" stop-color="#ffc900"/>
<stop offset="21.72%" stop-color="#ffcf00"/>
<stop offset="24.24%" stop-color="#ffd400"/>
<stop offset="26.77%" stop-color="#ffd800"/>
<stop offset="29.29%" stop-color="#ffdc00"/>
<stop offset="31.82%" stop-color="#ffda00"/>
<stop offset="34.34%" stop-color="#ffd900"/>
<stop offset="36.87%" stop-color="#ffd600"/>
<stop offset="39.39%" stop-color="#ffd300"/>
<stop offset="41.92%" stop-color="#ffd100"/>
<stop offset="44.44%" stop-color="#ffcf00"/>
<stop offset="46.97%" stop-color="#ffd100"/>
<stop offset="49.49%" stop-color="#ffd300"/>
<stop offset="52.02%" stop-color="#ffda00"/>
<stop offset="54.55%" stop-color="#ffe200"/>
<stop offset="56.06%" stop-color="#ffe500"/>
<stop offset="57.58%" stop-color="#ffe800"/>
<stop offset="59.6%" stop-color="#ffe300"/>
<stop offset="61.62%" stop-color="#ffdf00"/>
<stop offset="63.64%" stop-color="#ffdc00"/>
<stop offset="65.66%" stop-color="#ffd900"/>
<stop offset="67.68%" stop-color="#ffd900"/>
<stop offset="69.7%" stop-color="#ffda00"/>
<stop offset="74.75%" stop-color="#ffd800"/>
<stop offset="79.8%" stop-color="#ffd800"/>
<stop offset="84.85%" stop-color="#ffd800"/>
<stop offset="89.9%" stop-color="#ffd800"/>
<stop offset="94.95%" stop-color="#ffda00"/>
<stop offset="100%" stop-color="#ffdc00"/>
</linearGradient>
<linearGradient id="hg10" gradientUnits="userSpaceOnUse" x1="417.39" y1="0" x2="604.4" y2="0">
<stop offset="0%" stop-color="#ff2d00"/>
<stop offset="0.51%" stop-color="#ff4100"/>
<stop offset="1.01%" stop-color="#ff5500"/>
<stop offset="2.02%" stop-color="#ff6800"/>
<stop offset="3.03%" stop-color="#ff7c00"/>
<stop offset="4.04%" stop-color="#ff8400"/>
<stop offset="5.05%" stop-color="#ff8c00"/>
<stop offset="6.06%" stop-color="#ff9400"/>
<stop offset="7.07%" stop-color="#ff9a00"/>
<stop offset="9.09%" stop-color="#ffa600"/>
<stop offset="11.11%" stop-color="#ffaf00"/>
<stop offset="14.14%" stop-color="#ffbd00"/>
<stop offset="17.17%" stop-color="#ffc500"/>
<stop offset="19.19%" stop-color="#ffca00"/>
<stop offset="21.72%" stop-color="#ffd000"/>
<stop offset="24.24%" stop-color="#ffd600"/>
<stop offset="26.77%" stop-color="#ffda00"/>
<stop offset="29.29%" stop-color="#ffde00"/>
<stop offset="31.82%" stop-color="#ffdc00"/>
<stop offset="34.34%" stop-color="#ffda00"/>
<stop offset="36.87%" stop-color="#ffd800"/>
<stop offset="39.39%" stop-color="#ffd400"/>
<stop offset="41.92%" stop-color="#ffd200"/>
<stop offset="44.44%" stop-color="#ffd000"/>
<stop offset="46.97%" stop-color="#ffd200"/>
<stop offset="49.49%" stop-color="#ffd400"/>
<stop offset="52.02%" stop-color="#ffdc00"/>
<stop offset="54.55%" stop-color="#ffe200"/>
<stop offset="56.06%" stop-color="#ffe500"/>
<stop offset="57.58%" stop-color="#ffe800"/>
<stop offset="59.6%" stop-color="#ffe400"/>
<stop offset="61.62%" stop-color="#ffe000"/>
<stop offset="63.64%" stop-color="#ffdd00"/>
<stop offset="65.66%" stop-color="#ffda00"/>
<stop offset="67.68%" stop-color="#ffdb00"/>
<stop offset="69.7%" stop-color="#ffdc00"/>
<stop offset="74.75%" stop-color="#ffdc00"/>
<stop offset="79.8%" stop-color="#ffdb00"/>
<stop offset="84.85%" stop-color="#ffdb00"/>
<stop offset="89.9%" stop-color="#ffdb00"/>
<stop offset="94.95%" stop-color="#ffdc00"/>
<stop offset="100%" stop-color="#ffde00"/>
</linearGradient>
<linearGradient id="hg11" gradientUnits="userSpaceOnUse" x1="417.39" y1="0" x2="604.4" y2="0">
<stop offset="0%" stop-color="#ff2600"/>
<stop offset="0.51%" stop-color="#ff3a00"/>
<stop offset="1.01%" stop-color="#ff4e00"/>
<stop offset="2.02%" stop-color="#ff6200"/>
<stop offset="3.03%" stop-color="#ff7600"/>
<stop offset="4.04%" stop-color="#ff7f00"/>
<stop offset="5.05%" stop-color="#ff8800"/>
<stop offset="6.06%" stop-color="#ff9100"/>
<stop offset="7.07%" stop-color="#ff9800"/>
<stop offset="9.09%" stop-color="#ffa400"/>
<stop offset="11.11%" stop-color="#ffae00"/>
<stop offset="14.14%" stop-color="#ffbc00"/>
<stop offset="17.17%" stop-color="#ffc600"/>
<stop offset="19.19%" stop-color="#ffcc00"/>
<stop offset="21.72%" stop-color="#ffd200"/>
<stop offset="24.24%" stop-color="#ffd800"/>
<stop offset="26.77%" stop-color="#ffdc00"/>
<stop offset="29.29%" stop-color="#ffdf00"/>
<stop offset="31.82%" stop-color="#ffde00"/>
<stop offset="34.34%" stop-color="#ffdc00"/>
<stop offset="36.87%" stop-color="#ffd900"/>
<stop offset="39.39%" stop-color="#ffd600"/>
<stop offset="41.92%" stop-color="#ffd400"/>
<stop offset="44.44%" stop-color="#ffd200"/>
<stop offset="46.97%" stop-color="#ffd400"/>
<stop offset="49.49%" stop-color="#ffd600"/>
<stop offset="52.02%" stop-color="#ffdc00"/>
<stop offset="54.55%" stop-color="#ffe300"/>
<stop offset="56.06%" stop-color="#ffe600"/>
<stop offset="57.58%" stop-color="#ffe800"/>
<stop offset="59.6%" stop-color="#ffe400"/>
<stop offset="61.62%" stop-color="#ffe000"/>
<stop offset="63.64%" stop-color="#ffde00"/>
<stop offset="65.66%" stop-color="#ffdc00"/>
<stop offset="67.68%" stop-color="#ffdd00"/>
<stop offset="69.7%" stop-color="#ffde00"/>
<stop offset="74.75%" stop-color="#ffde00"/>
<stop offset="79.8%" stop-color="#ffde00"/>
<stop offset="84.85%" stop-color="#ffde00"/>
<stop offset="89.9%" stop-color="#ffde00"/>
<stop offset="94.95%" stop-color="#ffdf00"/>
<stop offset="100%" stop-color="#ffe000"/>
</linearGradient>
<linearGradient id="hg12" gradientUnits="userSpaceOnUse" x1="417.39" y1="0" x2="604.4" y2="0">
<stop offset="0%" stop-color="#ff1e00"/>
<stop offset="0.51%" stop-color="#ff3200"/>
<stop offset="1.01%" stop-color="#ff4600"/>
<stop offset="2.02%" stop-color="#ff5b00"/>
<stop offset="3.03%" stop-color="#ff7000"/>
<stop offset="4.04%" stop-color="#ff7a00"/>
<stop offset="5.05%" stop-color="#ff8400"/>
<stop offset="6.06%" stop-color="#ff8e00"/>
<stop offset="7.07%" stop-color="#ff9500"/>
<stop offset="9.09%" stop-color="#ffa200"/>
<stop offset="11.11%" stop-color="#ffac00"/>
<stop offset="14.14%" stop-color="#ffbc00"/>
<stop offset="17.17%" stop-color="#ffc600"/>
<stop offset="19.19%" stop-color="#ffcd00"/>
<stop offset="21.72%" stop-color="#ffd400"/>
<stop offset="24.24%" stop-color="#ffda00"/>
<stop offset="26.77%" stop-color="#ffde00"/>
<stop offset="29.29%" stop-color="#ffe100"/>
<stop offset="31.82%" stop-color="#ffe000"/>
<stop offset="34.34%" stop-color="#ffde00"/>
<stop offset="36.87%" stop-color="#ffda00"/>
<stop offset="39.39%" stop-color="#ffd700"/>
<stop offset="41.92%" stop-color="#ffd600"/>
<stop offset="44.44%" stop-color="#ffd400"/>
<stop offset="46.97%" stop-color="#ffd600"/>
<stop offset="49.49%" stop-color="#ffd700"/>
<stop offset="52.02%" stop-color="#ffde00"/>
<stop offset="54.55%" stop-color="#ffe400"/>
<stop offset="56.06%" stop-color="#ffe600"/>
<stop offset="57.58%" stop-color="#ffe800"/>
<stop offset="59.6%" stop-color="#ffe400"/>
<stop offset="61.62%" stop-color="#ffe100"/>
<stop offset="63.64%" stop-color="#ffe000"/>
<stop offset="65.66%" stop-color="#ffde00"/>
<stop offset="67.68%" stop-color="#ffe000"/>
<stop offset="69.7%" stop-color="#ffe100"/>
<stop offset="74.75%" stop-color="#ffe200"/>
<stop offset="79.8%" stop-color="#ffe200"/>
<stop offset="84.85%" stop-color="#ffe200"/>
<stop offset="89.9%" stop-color="#ffe200"/>
<stop offset="94.95%" stop-color="#ffe200"/>
<stop offset="100%" stop-color="#ffe200"/>
</linearGradient>
<linearGradient id="hg13" gradientUnits="userSpaceOnUse" x1="417.39" y1="0" x2="604.4" y2="0">
<stop offset="0%" stop-color="#ff1c00"/>
<stop offset="0.51%" stop-color="#ff3000"/>
<stop offset="1.01%" stop-color="#ff4400"/>
<stop offset="2.02%" stop-color="#ff5900"/>
<stop offset="3.03%" stop-color="#ff6e00"/>
<stop offset="4.04%" stop-color="#ff7900"/>
<stop offset="5.05%" stop-color="#ff8300"/>
<stop offset="6.06%" stop-color="#ff8e00"/>
<stop offset="7.07%" stop-color="#ff9400"/>
<stop offset="9.09%" stop-color="#ffa200"/>
<stop offset="11.11%" stop-color="#ffac00"/>
<stop offset="14.14%" stop-color="#ffbb00"/>
<stop offset="17.17%" stop-color="#ffc600"/>
<stop offset="19.19%" stop-color="#ffce00"/>
<stop offset="21.72%" stop-color="#ffd400"/>
<stop offset="24.24%" stop-color="#ffdb00"/>
<stop offset="26.77%" stop-color="#ffde00"/>
<stop offset="29.29%" stop-color="#ffe200"/>
<stop offset="31.82%" stop-color="#ffe000"/>
<stop offset="34.34%" stop-color="#ffde00"/>
<stop offset="36.87%" stop-color="#ffdb00"/>
<stop offset="39.39%" stop-color="#ffd800"/>
<stop offset="41.92%" stop-color="#ffd700"/>
<stop offset="44.44%" stop-color="#ffd600"/>
<stop offset="46.97%" stop-color="#ffd700"/>
<stop offset="49.49%" stop-color="#ffd800"/>
<stop offset="52.02%" stop-color="#ffde00"/>
<stop offset="54.55%" stop-color="#ffe300"/>
<stop offset="56.06%" stop-color="#ffe500"/>
<stop offset="57.58%" stop-color="#ffe700"/>
<stop offset="59.6%" stop-color="#ffe400"/>
<stop offset="61.62%" stop-color="#ffe100"/>
<stop offset="63.64%" stop-color="#ffe000"/>
<stop offset="65.66%" stop-color="#ffdf00"/>
<stop offset="67.68%" stop-color="#ffe000"/>
<stop offset="69.7%" stop-color="#ffe200"/>
<stop offset="74.75%" stop-color="#ffe200"/>
<stop offset="79.8%" stop-color="#ffe300"/>
<stop offset="84.85%" stop-color="#ffe300"/>
<stop offset="89.9%" stop-color="#ffe300"/>
<stop offset="94.95%" stop-color="#ffe300"/>
<stop offset="100%" stop-color="#ffe200"/>
</linearGradient>
<linearGradient id="hg14" gradientUnits="userSpaceOnUse" x1="417.39" y1="0" x2="604.4" y2="0">
<stop offset="0%" stop-color="#ff1a00"/>
<stop offset="0.51%" stop-color="#ff2e00"/>
<stop offset="1.01%" stop-color="#ff4100"/>
<stop offset="2.02%" stop-color="#ff5700"/>
<stop offset="3.03%" stop-color="#ff6c00"/>
<stop offset="4.04%" stop-color="#ff7700"/>
<stop offset="5.05%" stop-color="#ff8200"/>
<stop offset="6.06%" stop-color="#ff8d00"/>
<stop offset="7.07%" stop-color="#ff9400"/>
<stop offset="9.09%" stop-color="#ffa100"/>
<stop offset="11.11%" stop-color="#ffab00"/>
<stop offset="14.14%" stop-color="#ffba00"/>
<stop offset="17.17%" stop-color="#ffc600"/>
<stop offset="19.19%" stop-color="#ffce00"/>
<stop offset="21.72%" stop-color="#ffd500"/>
<stop offset="24.24%" stop-color="#ffdc00"/>
<stop offset="26.77%" stop-color="#ffdf00"/>
<stop offset="29.29%" stop-color="#ffe200"/>
<stop offset="31.82%" stop-color="#ffe000"/>
<stop offset="34.34%" stop-color="#ffde00"/>
<stop offset="36.87%" stop-color="#ffdb00"/>
<stop offset="39.39%" stop-color="#ffd800"/>
<stop offset="41.92%" stop-color="#ffd800"/>
<stop offset="44.44%" stop-color="#ffd700"/>
<stop offset="46.97%" stop-color="#ffd800"/>
<stop offset="49.49%" stop-color="#ffda00"/>
<stop offset="52.02%" stop-color="#ffde00"/>
<stop offset="54.55%" stop-color="#ffe200"/>
<stop offset="56.06%" stop-color="#ffe400"/>
<stop offset="57.58%" stop-color="#ffe600"/>
<stop offset="59.6%" stop-color="#ffe400"/>
<stop offset="61.62%" stop-color="#ffe100"/>
<stop offset="63.64%" stop-color="#ffe000"/>
<stop offset="65.66%" stop-color="#ffe000"/>
<stop offset="67.68%" stop-color="#ffe100"/>
<stop offset="69.7%" stop-color="#ffe200"/>
<stop offset="74.75%" stop-color="#ffe300"/>
<stop offset="79.8%" stop-color="#ffe400"/>
<stop offset="84.85%" stop-color="#ffe400"/>
<stop offset="89.9%" stop-color="#ffe400"/>
<stop offset="94.95%" stop-color="#ffe400"/>
<stop offset="100%" stop-color="#ffe300"/>
</linearGradient>
<linearGradient id="hg15" gradientUnits="userSpaceOnUse" x1="417.39" y1="0" x2="604.4" y2="0">
<stop offset="0%" stop-color="#ff1800"/>
<stop offset="0.51%" stop-color="#ff2b00"/>
<stop offset="1.01%" stop-color="#ff3e00"/>
<stop offset="2.02%" stop-color="#ff5500"/>
<stop offset="3.03%" stop-color="#ff6b00"/>
<stop offset="4.04%" stop-color="#ff7600"/>
<stop offset="5.05%" stop-color="#ff8100"/>
<stop offset="6.06%" stop-color="#ff8c00"/>
<stop offset="7.07%" stop-color="#ff9300"/>
<stop offset="9.09%" stop-color="#ffa000"/>
<stop offset="11.11%" stop-color="#ffab00"/>
<stop offset="14.14%" stop-color="#ffba00"/>
<stop offset="17.17%" stop-color="#ffc700"/>
<stop offset="19.19%" stop-color="#ffcf00"/>
<stop offset="21.72%" stop-color="#ffd600"/>
<stop offset="24.24%" stop-color="#ffdd00"/>
<stop offset="26.77%" stop-color="#ffe000"/>
<stop offset="29.29%" stop-color="#ffe300"/>
<stop offset="31.82%" stop-color="#ffe100"/>
<stop offset="34.34%" stop-color="#ffde00"/>
<stop offset="36.87%" stop-color="#ffdc00"/>
<stop offset="39.39%" stop-color="#ffd900"/>
<stop offset="41.92%" stop-color="#ffd900"/>
<stop offset="44.44%" stop-color="#ffd800"/>
<stop offset="46.97%" stop-color="#ffda00"/>
<stop offset="49.49%" stop-color="#ffdb00"/>
<stop offset="52.02%" stop-color="#ffde00"/>
<stop offset="54.55%" stop-color="#ffe200"/>
<stop offset="56.06%" stop-color="#ffe300"/>
<stop offset="57.58%" stop-color="#ffe500"/>
<stop offset="59.6%" stop-color="#ffe300"/>
<stop offset="61.62%" stop-color="#ffe100"/>
<stop offset="63.64%" stop-color="#ffe100"/>
<stop offset="65.66%" stop-color="#ffe000"/>
<stop offset="67.68%" stop-color="#ffe200"/>
<stop offset="69.7%" stop-color="#ffe300"/>
<stop offset="74.75%" stop-color="#ffe400"/>
<stop offset="79.8%" stop-color="#ffe500"/>
<stop offset="84.85%" stop-color="#ffe500"/>
<stop offset="89.9%" stop-color="#ffe500"/>
<stop offset="94.95%" stop-color="#ffe400"/>
<stop offset="100%" stop-color="#ffe400"/>
</linearGradient>
<linearGradient id="hg16" gradientUnits="userSpaceOnUse" x1="417.39" y1="0" x2="604.4" y2="0">
<stop offset="0%" stop-color="#ff1600"/>
<stop offset="0.51%" stop-color="#ff2900"/>
<stop offset="1.01%" stop-color="#ff3c00"/>
<stop offset="2.02%" stop-color="#ff5200"/>
<stop offset="3.03%" stop-color="#ff6900"/>
<stop offset="4.04%" stop-color="#ff7500"/>
<stop offset="5.05%" stop-color="#ff8000"/>
<stop offset="6.06%" stop-color="#ff8c00"/>
<stop offset="7.07%" stop-color="#ff9300"/>
<stop offset="9.09%" stop-color="#ffa000"/>
<stop offset="11.11%" stop-color="#ffaa00"/>
<stop offset="14.14%" stop-color="#ffb900"/>
<stop offset="17.17%" stop-color="#ffc700"/>
<stop offset="19.19%" stop-color="#ffd000"/>
<stop offset="21.72%" stop-color="#ffd700"/>
<stop offset="24.24%" stop-color="#ffde00"/>
<stop offset="26.77%" stop-color="#ffe100"/>
<stop offset="29.29%" stop-color="#ffe400"/>
<stop offset="31.82%" stop-color="#ffe100"/>
<stop offset="34.34%" stop-color="#ffde00"/>
<stop offset="36.87%" stop-color="#ffdc00"/>
<stop offset="39.39%" stop-color="#ffda00"/>
<stop offset="41.92%" stop-color="#ffda00"/>
<stop offset="44.44%" stop-color="#ffda00"/>
<stop offset="46.97%" stop-color="#ffdb00"/>
<stop offset="49.49%" stop-color="#ffdc00"/>
<stop offset="52.02%" stop-color="#ffde00"/>
<stop offset="54.55%" stop-color="#ffe100"/>
<stop offset="56.06%" stop-color="#ffe200"/>
<stop offset="57.58%" stop-color="#ffe400"/>
<stop offset="59.6%" stop-color="#ffe200"/>
<stop offset="61.62%" stop-color="#ffe100"/>
<stop offset="63.64%" stop-color="#ffe100"/>
<stop offset="65.66%" stop-color="#ffe100"/>
<stop offset="67.68%" stop-color="#ffe200"/>
<stop offset="69.7%" stop-color="#ffe400"/>
<stop offset="74.75%" stop-color="#ffe500"/>
<stop offset="79.8%" stop-color="#ffe600"/>
<stop offset="84.85%" stop-color="#ffe600"/>
<stop offset="89.9%" stop-color="#ffe600"/>
<stop offset="94.95%" stop-color="#ffe500"/>
<stop offset="100%" stop-color="#ffe400"/>
</linearGradient>
<linearGradient id="hg17" gradientUnits="userSpaceOnUse" x1="417.39" y1="0" x2="604.4" y2="0">
<stop offset="0%" stop-color="#ff1600"/>
<stop offset="0.51%" stop-color="#ff2900"/>
<stop offset="1.01%" stop-color="#ff3c00"/>
<stop offset="2.02%" stop-color="#ff5200"/>
<stop offset="3.03%" stop-color="#ff6900"/>
<stop offset="4.04%" stop-color="#ff7500"/>
<stop offset="5.05%" stop-color="#ff8000"/>
<stop offset="6.06%" stop-color="#ff8c00"/>
<stop offset="7.07%" stop-color="#ff9300"/>
<stop offset="9.09%" stop-color="#ffa000"/>
<stop offset="11.11%" stop-color="#ffaa00"/>
<stop offset="14.14%" stop-color="#ffb900"/>
<stop offset="17.17%" stop-color="#ffc700"/>
<stop offset="19.19%" stop-color="#ffd000"/>
<stop offset="21.72%" stop-color="#ffd700"/>
<stop offset="24.24%" stop-color="#ffde00"/>
<stop offset="26.77%" stop-color="#ffe100"/>
<stop offset="29.29%" stop-color="#ffe400"/>
<stop offset="31.82%" stop-color="#ffe100"/>
<stop offset="34.34%" stop-color="#ffde00"/>
<stop offset="36.87%" stop-color="#ffdc00"/>
<stop offset="39.39%" stop-color="#ffda00"/>
<stop offset="41.92%" stop-color="#ffdb00"/>
<stop offset="44.44%" stop-color="#ffdc00"/>
<stop offset="46.97%" stop-color="#ffdc00"/>
<stop offset="49.49%" stop-color="#ffdd00"/>
<stop offset="52.02%" stop-color="#ffdf00"/>
<stop offset="54.55%" stop-color="#ffe100"/>
<stop offset="56.06%" stop-color="#ffe200"/>
<stop offset="57.58%" stop-color="#ffe200"/>
<stop offset="59.6%" stop-color="#ffe200"/>
<stop offset="61.62%" stop-color="#ffe100"/>
<stop offset="63.64%" stop-color="#ffe100"/>
<stop offset="65.66%" stop-color="#ffe200"/>
<stop offset="67.68%" stop-color="#ffe300"/>
<stop offset="69.7%" stop-color="#ffe500"/>
<stop offset="74.75%" stop-color="#ffe600"/>
<stop offset="79.8%" stop-color="#ffe800"/>
<stop offset="84.85%" stop-color="#ffe800"/>
<stop offset="89.9%" stop-color="#ffe800"/>
<stop offset="94.95%" stop-color="#ffe600"/>
<stop offset="100%" stop-color="#ffe500"/>
</linearGradient>
<linearGradient id="hg18" gradientUnits="userSpaceOnUse" x1="417.39" y1="0" x2="604.4" y2="0">
<stop offset="0%" stop-color="#ff1600"/>
<stop offset="0.51%" stop-color="#ff2900"/>
<stop offset="1.01%" stop-color="#ff3c00"/>
<stop offset="2.02%" stop-color="#ff5200"/>
<stop offset="3.03%" stop-color="#ff6900"/>
<stop offset="4.04%" stop-color="#ff7500"/>
<stop offset="5.05%" stop-color="#ff8000"/>
<stop offset="6.06%" stop-color="#ff8c00"/>
<stop offset="7.07%" stop-color="#ff9300"/>
<stop offset="9.09%" stop-color="#ffa000"/>
<stop offset="11.11%" stop-color="#ffaa00"/>
<stop offset="14.14%" stop-color="#ffb900"/>
<stop offset="17.17%" stop-color="#ffc700"/>
<stop offset="19.19%" stop-color="#ffd100"/>
<stop offset="21.72%" stop-color="#ffd800"/>
<stop offset="24.24%" stop-color="#ffde00"/>
<stop offset="26.77%" stop-color="#ffe100"/>
<stop offset="29.29%" stop-color="#ffe400"/>
<stop offset="31.82%" stop-color="#ffe100"/>
<stop offset="34.34%" stop-color="#ffde00"/>
<stop offset="36.87%" stop-color="#ffdc00"/>
<stop offset="39.39%" stop-color="#ffdb00"/>
<stop offset="41.92%" stop-color="#ffdc00"/>
<stop offset="44.44%" stop-color="#ffde00"/>
<stop offset="46.97%" stop-color="#ffde00"/>
<stop offset="49.49%" stop-color="#ffde00"/>
<stop offset="52.02%" stop-color="#ffe000"/>
<stop offset="54.55%" stop-color="#ffe100"/>
<stop offset="56.06%" stop-color="#ffe100"/>
<stop offset="57.58%" stop-color="#ffe100"/>
<stop offset="59.6%" stop-color="#ffe100"/>
<stop offset="61.62%" stop-color="#ffe100"/>
<stop offset="63.64%" stop-color="#ffe200"/>
<stop offset="65.66%" stop-color="#ffe200"/>
<stop offset="67.68%" stop-color="#ffe400"/>
<stop offset="69.7%" stop-color="#ffe600"/>
<stop offset="74.75%" stop-color="#ffe800"/>
<stop offset="79.8%" stop-color="#ffe900"/>
<stop offset="84.85%" stop-color="#ffe900"/>
<stop offset="89.9%" stop-color="#ffe900"/>
<stop offset="94.95%" stop-color="#ffe800"/>
<stop offset="100%" stop-color="#ffe600"/>
</linearGradient>
<linearGradient id="hg19" gradientUnits="userSpaceOnUse" x1="417.39" y1="0" x2="604.4" y2="0">
<stop offset="0%" stop-color="#ff1600"/>
<stop offset="0.51%" stop-color="#ff2900"/>
<stop offset="1.01%" stop-color="#ff3c00"/>
<stop offset="2.02%" stop-color="#ff5200"/>
<stop offset="3.03%" stop-color="#ff6900"/>
<stop offset="4.04%" stop-color="#ff7500"/>
<stop offset="5.05%" stop-color="#ff8000"/>
<stop offset="6.06%" stop-color="#ff8c00"/>
<stop offset="7.07%" stop-color="#ff9300"/>
<stop offset="9.09%" stop-color="#ffa000"/>
<stop offset="11.11%" stop-color="#ffaa00"/>
<stop offset="14.14%" stop-color="#ffb900"/>
<stop offset="17.17%" stop-color="#ffc800"/>
<stop offset="19.19%" stop-color="#ffd200"/>
<stop offset="21.72%" stop-color="#ffd800"/>
<stop offset="24.24%" stop-color="#ffde00"/>
<stop offset="26.77%" stop-color="#ffe100"/>
<stop offset="29.29%" stop-color="#ffe400"/>
<stop offset="31.82%" stop-color="#ffe100"/>
<stop offset="34.34%" stop-color="#ffde00"/>
<stop offset="36.87%" stop-color="#ffdd00"/>
<stop offset="39.39%" stop-color="#ffdc00"/>
<stop offset="41.92%" stop-color="#ffdd00"/>
<stop offset="44.44%" stop-color="#ffdf00"/>
<stop offset="46.97%" stop-color="#ffe000"/>
<stop offset="49.49%" stop-color="#ffe000"/>
<stop offset="52.02%" stop-color="#ffe000"/>
<stop offset="54.55%" stop-color="#ffe100"/>
<stop offset="56.06%" stop-color="#ffe000"/>
<stop offset="57.58%" stop-color="#ffe000"/>
<stop offset="59.6%" stop-color="#ffe000"/>
<stop offset="61.62%" stop-color="#ffe100"/>
<stop offset="63.64%" stop-color="#ffe200"/>
<stop offset="65.66%" stop-color="#ffe300"/>
<stop offset="67.68%" stop-color="#ffe500"/>
<stop offset="69.7%" stop-color="#ffe700"/>
<stop offset="74.75%" stop-color="#ffe900"/>
<stop offset="79.8%" stop-color="#ffea00"/>
<stop offset="84.85%" stop-color="#ffea00"/>
<stop offset="89.9%" stop-color="#ffea00"/>
<stop offset="94.95%" stop-color="#ffe900"/>
<stop offset="100%" stop-color="#ffe700"/>
</linearGradient>
<linearGradient id="hg20" gradientUnits="userSpaceOnUse" x1="417.39" y1="0" x2="604.4" y2="0">
<stop offset="0%" stop-color="#ff1600"/>
<stop offset="0.51%" stop-color="#ff2900"/>
<stop offset="1.01%" stop-color="#ff3c00"/>
<stop offset="2.02%" stop-color="#ff5200"/>
<stop offset="3.03%" stop-color="#ff6900"/>
<stop offset="4.04%" stop-color="#ff7500"/>
<stop offset="5.05%" stop-color="#ff8000"/>
<stop offset="6.06%" stop-color="#ff8c00"/>
<stop offset="7.07%" stop-color="#ff9300"/>
<stop offset="9.09%" stop-color="#ffa000"/>
<stop offset="11.11%" stop-color="#ffaa00"/>
<stop offset="14.14%" stop-color="#ffb900"/>
<stop offset="17.17%" stop-color="#ffc800"/>
<stop offset="19.19%" stop-color="#ffd200"/>
<stop offset="21.72%" stop-color="#ffd800"/>
<stop offset="24.24%" stop-color="#ffde00"/>
<stop offset="26.77%" stop-color="#ffe100"/>
<stop offset="29.29%" stop-color="#ffe400"/>
<stop offset="31.82%" stop-color="#ffe100"/>
<stop offset="34.34%" stop-color="#ffde00"/>
<stop offset="36.87%" stop-color="#ffdd00"/>
<stop offset="39.39%" stop-color="#ffdc00"/>
<stop offset="41.92%" stop-color="#ffde00"/>
<stop offset="44.44%" stop-color="#ffe100"/>
<stop offset="46.97%" stop-color="#ffe100"/>
<stop offset="49.49%" stop-color="#ffe100"/>
<stop offset="52.02%" stop-color="#ffe100"/>
<stop offset="54.55%" stop-color="#ffe100"/>
<stop offset="56.06%" stop-color="#ffe000"/>
<stop offset="57.58%" stop-color="#ffde00"/>
<stop offset="59.6%" stop-color="#ffe000"/>
<stop offset="61.62%" stop-color="#ffe100"/>
<stop offset="63.64%" stop-color="#ffe200"/>
<stop offset="65.66%" stop-color="#ffe400"/>
<stop offset="67.68%" stop-color="#ffe600"/>
<stop offset="69.7%" stop-color="#ffe800"/>
<stop offset="74.75%" stop-color="#ffea00"/>
<stop offset="79.8%" stop-color="#ffec00"/>
<stop offset="84.85%" stop-color="#ffec00"/>
<stop offset="89.9%" stop-color="#ffec00"/>
<stop offset="94.95%" stop-color="#ffea00"/>
<stop offset="100%" stop-color="#ffe800"/>
</linearGradient>
<linearGradient id="hg21" gradientUnits="userSpaceOnUse" x1="417.39" y1="0" x2="604.4" y2="0">
<stop offset="0%" stop-color="#ff1600"/>
<stop offset="0.51%" stop-color="#ff2900"/>
<stop offset="1.01%" stop-color="#ff3c00"/>
<stop offset="2.02%" stop-color="#ff5200"/>
<stop offset="3.03%" stop-color="#ff6900"/>
<stop offset="4.04%" stop-color="#ff7500"/>
<stop offset="5.05%" stop-color="#ff8000"/>
<stop offset="6.06%" stop-color="#ff8c00"/>
<stop offset="7.07%" stop-color="#ff9300"/>
<stop offset="9.09%" stop-color="#ffa000"/>
<stop offset="11.11%" stop-color="#ffaa00"/>
<stop offset="14.14%" stop-color="#ffb900"/>
<stop offset="17.17%" stop-color="#ffc800"/>
<stop offset="19.19%" stop-color="#ffd200"/>
<stop offset="21.72%" stop-color="#ffd800"/>
<stop offset="24.24%" stop-color="#ffde00"/>
<stop offset="26.77%" stop-color="#ffe100"/>
<stop offset="29.29%" stop-color="#ffe400"/>
<stop offset="31.82%" stop-color="#ffe100"/>
<stop offset="34.34%" stop-color="#ffde00"/>
<stop offset="36.87%" stop-color="#ffdd00"/>
<stop offset="39.39%" stop-color="#ffdc00"/>
<stop offset="41.92%" stop-color="#ffde00"/>
<stop offset="44.44%" stop-color="#ffe100"/>
<stop offset="46.97%" stop-color="#ffe100"/>
<stop offset="49.49%" stop-color="#ffe200"/>
<stop offset="52.02%" stop-color="#ffe100"/>
<stop offset="54.55%" stop-color="#ffe100"/>
<stop offset="56.06%" stop-color="#ffdf00"/>
<stop offset="57.58%" stop-color="#ffdd00"/>
<stop offset="59.6%" stop-color="#ffdf00"/>
<stop offset="61.62%" stop-color="#ffe000"/>
<stop offset="63.64%" stop-color="#ffe200"/>
<stop offset="65.66%" stop-color="#ffe400"/>
<stop offset="67.68%" stop-color="#ffe600"/>
<stop offset="69.7%" stop-color="#ffe800"/>
<stop offset="74.75%" stop-color="#ffeb00"/>
<stop offset="79.8%" stop-color="#ffee00"/>
<stop offset="84.85%" stop-color="#ffee00"/>
<stop offset="89.9%" stop-color="#ffee00"/>
<stop offset="94.95%" stop-color="#ffeb00"/>
<stop offset="100%" stop-color="#ffe900"/>
</linearGradient>
<linearGradient id="hg22" gradientUnits="userSpaceOnUse" x1="417.39" y1="0" x2="604.4" y2="0">
<stop offset="0%" stop-color="#ff1600"/>
<stop offset="0.51%" stop-color="#ff2900"/>
<stop offset="1.01%" stop-color="#ff3c00"/>
<stop offset="2.02%" stop-color="#ff5200"/>
<stop offset="3.03%" stop-color="#ff6900"/>
<stop offset="4.04%" stop-color="#ff7500"/>
<stop offset="5.05%" stop-color="#ff8000"/>
<stop offset="6.06%" stop-color="#ff8c00"/>
<stop offset="7.07%" stop-color="#ff9300"/>
<stop offset="9.09%" stop-color="#ffa000"/>
<stop offset="11.11%" stop-color="#ffaa00"/>
<stop offset="14.14%" stop-color="#ffb900"/>
<stop offset="17.17%" stop-color="#ffc800"/>
<stop offset="19.19%" stop-color="#ffd200"/>
<stop offset="21.72%" stop-color="#ffd800"/>
<stop offset="24.24%" stop-color="#ffde00"/>
<stop offset="26.77%" stop-color="#ffe100"/>
<stop offset="29.29%" stop-color="#ffe400"/>
<stop offset="31.82%" stop-color="#ffe100"/>
<stop offset="34.34%" stop-color="#ffde00"/>
<stop offset="36.87%" stop-color="#ffdc00"/>
<stop offset="39.39%" stop-color="#ffdb00"/>
<stop offset="41.92%" stop-color="#ffde00"/>
<stop offset="44.44%" stop-color="#ffe100"/>
<stop offset="46.97%" stop-color="#ffe200"/>
<stop offset="49.49%" stop-color="#ffe200"/>
<stop offset="52.02%" stop-color="#ffe200"/>
<stop offset="54.55%" stop-color="#ffe100"/>
<stop offset="56.06%" stop-color="#ffde00"/>
<stop offset="57.58%" stop-color="#ffdc00"/>
<stop offset="59.6%" stop-color="#ffde00"/>
<stop offset="61.62%" stop-color="#ffe000"/>
<stop offset="63.64%" stop-color="#ffe200"/>
<stop offset="65.66%" stop-color="#ffe400"/>
<stop offset="67.68%" stop-color="#ffe600"/>
<stop offset="69.7%" stop-color="#ffe900"/>
<stop offset="74.75%" stop-color="#ffec00"/>
<stop offset="79.8%" stop-color="#ffef00"/>
<stop offset="84.85%" stop-color="#ffef00"/>
<stop offset="89.9%" stop-color="#ffef00"/>
<stop offset="94.95%" stop-color="#ffec00"/>
<stop offset="100%" stop-color="#ffea00"/>
</linearGradient>
<linearGradient id="hg23" gradientUnits="userSpaceOnUse" x1="417.39" y1="0" x2="604.4" y2="0">
<stop offset="0%" stop-color="#ff1600"/>
<stop offset="0.51%" stop-color="#ff2900"/>
<stop offset="1.01%" stop-color="#ff3c00"/>
<stop offset="2.02%" stop-color="#ff5200"/>
<stop offset="3.03%" stop-color="#ff6900"/>
<stop offset="4.04%" stop-color="#ff7500"/>
<stop offset="5.05%" stop-color="#ff8000"/>
<stop offset="6.06%" stop-color="#ff8c00"/>
<stop offset="7.07%" stop-color="#ff9300"/>
<stop offset="9.09%" stop-color="#ffa000"/>
<stop offset="11.11%" stop-color="#ffaa00"/>
<stop offset="14.14%" stop-color="#ffb900"/>
<stop offset="17.17%" stop-color="#ffc800"/>
<stop offset="19.19%" stop-color="#ffd200"/>
<stop offset="21.72%" stop-color="#ffd800"/>
<stop offset="24.24%" stop-color="#ffde00"/>
<stop offset="26.77%" stop-color="#ffe100"/>
<stop offset="29.29%" stop-color="#ffe400"/>
<stop offset="31.82%" stop-color="#ffe100"/>
<stop offset="34.34%" stop-color="#ffde00"/>
<stop offset="36.87%" stop-color="#ffdc00"/>
<stop offset="39.39%" stop-color="#ffda00"/>
<stop offset="41.92%" stop-color="#ffde00"/>
<stop offset="44.44%" stop-color="#ffe100"/>
<stop offset="46.97%" stop-color="#ffe200"/>
<stop offset="49.49%" stop-color="#ffe300"/>
<stop offset="52.02%" stop-color="#ffe200"/>
<stop offset="54.55%" stop-color="#ffe100"/>
<stop offset="56.06%" stop-color="#ffde00"/>
<stop offset="57.58%" stop-color="#ffdb00"/>
<stop offset="59.6%" stop-color="#ffdd00"/>
<stop offset="61.62%" stop-color="#ffdf00"/>
<stop offset="63.64%" stop-color="#ffe100"/>
<stop offset="65.66%" stop-color="#ffe400"/>
<stop offset="67.68%" stop-color="#ffe700"/>
<stop offset="69.7%" stop-color="#ffea00"/>
<stop offset="74.75%" stop-color="#ffed00"/>
<stop offset="79.8%" stop-color="#fff000"/>
<stop offset="84.85%" stop-color="#fff000"/>
<stop offset="89.9%" stop-color="#fff000"/>
<stop offset="94.95%" stop-color="#ffee00"/>
<stop offset="100%" stop-color="#ffeb00"/>
</linearGradient>
<linearGradient id="hg24" gradientUnits="userSpaceOnUse" x1="417.39" y1="0" x2="604.4" y2="0">
<stop offset="0%" stop-color="#ff1600"/>
<stop offset="0.51%" stop-color="#ff2900"/>
<stop offset="1.01%" stop-color="#ff3c00"/>
<stop offset="2.02%" stop-color="#ff5200"/>
<stop offset="3.03%" stop-color="#ff6900"/>
<stop offset="4.04%" stop-color="#ff7500"/>
<stop offset="5.05%" stop-color="#ff8000"/>
<stop offset="6.06%" stop-color="#ff8c00"/>
<stop offset="7.07%" stop-color="#ff9300"/>
<stop offset="9.09%" stop-color="#ffa000"/>
<stop offset="11.11%" stop-color="#ffaa00"/>
<stop offset="14.14%" stop-color="#ffb900"/>
<stop offset="17.17%" stop-color="#ffc800"/>
<stop offset="19.19%" stop-color="#ffd200"/>
<stop offset="21.72%" stop-color="#ffd800"/>
<stop offset="24.24%" stop-color="#ffde00"/>
<stop offset="26.77%" stop-color="#ffe100"/>
<stop offset="29.29%" stop-color="#ffe400"/>
<stop offset="31.82%" stop-color="#ffe100"/>
<stop offset="34.34%" stop-color="#ffde00"/>
<stop offset="36.87%" stop-color="#ffdc00"/>
<stop offset="39.39%" stop-color="#ffda00"/>
<stop offset="41.92%" stop-color="#ffde00"/>
<stop offset="44.44%" stop-color="#ffe100"/>
<stop offset="46.97%" stop-color="#ffe200"/>
<stop offset="49.49%" stop-color="#ffe400"/>
<stop offset="52.02%" stop-color="#ffe200"/>
<stop offset="54.55%" stop-color="#ffe100"/>
<stop offset="56.06%" stop-color="#ffde00"/>
<stop offset="57.58%" stop-color="#ffda00"/>
<stop offset="59.6%" stop-color="#ffdc00"/>
<stop offset="61.62%" stop-color="#ffde00"/>
<stop offset="63.64%" stop-color="#ffe100"/>
<stop offset="65.66%" stop-color="#ffe400"/>
<stop offset="67.68%" stop-color="#ffe700"/>
<stop offset="69.7%" stop-color="#ffea00"/>
<stop offset="74.75%" stop-color="#ffee00"/>
<stop offset="79.8%" stop-color="#fff200"/>
<stop offset="84.85%" stop-color="#fff200"/>
<stop offset="89.9%" stop-color="#fff200"/>
<stop offset="94.95%" stop-color="#ffef00"/>
<stop offset="100%" stop-color="#ffec00"/>
</linearGradient>
<linearGradient id="hg25" gradientUnits="userSpaceOnUse" x1="417.39" y1="0" x2="604.4" y2="0">
<stop offset="0%" stop-color="#ff1700"/>
<stop offset="0.51%" stop-color="#ff2a00"/>
<stop offset="1.01%" stop-color="#ff3c00"/>
<stop offset="2.02%" stop-color="#ff5300"/>
<stop offset="3.03%" stop-color="#ff6a00"/>
<stop offset="4.04%" stop-color="#ff7500"/>
<stop offset="5.05%" stop-color="#ff8100"/>
<stop offset="6.06%" stop-color="#ff8c00"/>
<stop offset="7.07%" stop-color="#ff9300"/>
<stop offset="9.09%" stop-color="#ffa000"/>
<stop offset="11.11%" stop-color="#ffaa00"/>
<stop offset="14.14%" stop-color="#ffb900"/>
<stop offset="17.17%" stop-color="#ffc800"/>
<stop offset="19.19%" stop-color="#ffd200"/>
<stop offset="21.72%" stop-color="#ffd900"/>
<stop offset="24.24%" stop-color="#ffdf00"/>
<stop offset="26.77%" stop-color="#ffe100"/>
<stop offset="29.29%" stop-color="#ffe400"/>
<stop offset="31.82%" stop-color="#ffe100"/>
<stop offset="34.34%" stop-color="#ffdf00"/>
<stop offset="36.87%" stop-color="#ffdd00"/>
<stop offset="39.39%" stop-color="#ffda00"/>
<stop offset="41.92%" stop-color="#ffde00"/>
<stop offset="44.44%" stop-color="#ffe100"/>
<stop offset="46.97%" stop-color="#ffe300"/>
<stop offset="49.49%" stop-color="#ffe400"/>
<stop offset="52.02%" stop-color="#ffe200"/>
<stop offset="54.55%" stop-color="#ffe000"/>
<stop offset="56.06%" stop-color="#ffdc00"/>
<stop offset="57.58%" stop-color="#ffd800"/>
<stop offset="59.6%" stop-color="#ffda00"/>
<stop offset="61.62%" stop-color="#ffdc00"/>
<stop offset="63.64%" stop-color="#ffe000"/>
<stop offset="65.66%" stop-color="#ffe400"/>
<stop offset="67.68%" stop-color="#ffe700"/>
<stop offset="69.7%" stop-color="#ffea00"/>
<stop offset="74.75%" stop-color="#ffee00"/>
<stop offset="79.8%" stop-color="#fff200"/>
<stop offset="84.85%" stop-color="#fff200"/>
<stop offset="89.9%" stop-color="#fff200"/>
<stop offset="94.95%" stop-color="#ffef00"/>
<stop offset="100%" stop-color="#ffec00"/>
</linearGradient>
<linearGradient id="hg26" gradientUnits="userSpaceOnUse" x1="417.39" y1="0" x2="604.4" y2="0">
<stop offset="0%" stop-color="#ff1800"/>
<stop offset="0.51%" stop-color="#ff2a00"/>
<stop offset="1.01%" stop-color="#ff3d00"/>
<stop offset="2.02%" stop-color="#ff5400"/>
<stop offset="3.03%" stop-color="#ff6a00"/>
<stop offset="4.04%" stop-color="#ff7600"/>
<stop offset="5.05%" stop-color="#ff8100"/>
<stop offset="6.06%" stop-color="#ff8c00"/>
<stop offset="7.07%" stop-color="#ff9300"/>
<stop offset="9.09%" stop-color="#ffa000"/>
<stop offset="11.11%" stop-color="#ffaa00"/>
<stop offset="14.14%" stop-color="#ffb900"/>
<stop offset="17.17%" stop-color="#ffc900"/>
<stop offset="19.19%" stop-color="#ffd300"/>
<stop offset="21.72%" stop-color="#ffd900"/>
<stop offset="24.24%" stop-color="#ffe000"/>
<stop offset="26.77%" stop-color="#ffe200"/>
<stop offset="29.29%" stop-color="#ffe400"/>
<stop offset="31.82%" stop-color="#ffe200"/>
<stop offset="34.34%" stop-color="#ffe000"/>
<stop offset="36.87%" stop-color="#ffdd00"/>
<stop offset="39.39%" stop-color="#ffdb00"/>
<stop offset="41.92%" stop-color="#ffde00"/>
<stop offset="44.44%" stop-color="#ffe200"/>
<stop offset="46.97%" stop-color="#ffe300"/>
<stop offset="49.49%" stop-color="#ffe500"/>
<stop offset="52.02%" stop-color="#ffe200"/>
<stop offset="54.55%" stop-color="#ffe000"/>
<stop offset="56.06%" stop-color="#ffdb00"/>
<stop offset="57.58%" stop-color="#ffd600"/>
<stop offset="59.6%" stop-color="#ffd800"/>
<stop offset="61.62%" stop-color="#ffda00"/>
<stop offset="63.64%" stop-color="#ffdf00"/>
<stop offset="65.66%" stop-color="#ffe400"/>
<stop offset="67.68%" stop-color="#ffe700"/>
<stop offset="69.7%" stop-color="#ffea00"/>
<stop offset="74.75%" stop-color="#ffee00"/>
<stop offset="79.8%" stop-color="#fff100"/>
<stop offset="84.85%" stop-color="#fff200"/>
<stop offset="89.9%" stop-color="#fff200"/>
<stop offset="94.95%" stop-color="#fff000"/>
<stop offset="100%" stop-color="#ffed00"/>
</linearGradient>
<linearGradient id="hg27" gradientUnits="userSpaceOnUse" x1="417.39" y1="0" x2="604.4" y2="0">
<stop offset="0%" stop-color="#ff1800"/>
<stop offset="0.51%" stop-color="#ff2b00"/>
<stop offset="1.01%" stop-color="#ff3e00"/>
<stop offset="2.02%" stop-color="#ff5400"/>
<stop offset="3.03%" stop-color="#ff6b00"/>
<stop offset="4.04%" stop-color="#ff7600"/>
<stop offset="5.05%" stop-color="#ff8100"/>
<stop offset="6.06%" stop-color="#ff8c00"/>
<stop offset="7.07%" stop-color="#ff9300"/>
<stop offset="9.09%" stop-color="#ffa000"/>
<stop offset="11.11%" stop-color="#ffaa00"/>
<stop offset="14.14%" stop-color="#ffb900"/>
<stop offset="17.17%" stop-color="#ffc900"/>
<stop offset="19.19%" stop-color="#ffd400"/>
<stop offset="21.72%" stop-color="#ffda00"/>
<stop offset="24.24%" stop-color="#ffe000"/>
<stop offset="26.77%" stop-color="#ffe200"/>
<stop offset="29.29%" stop-color="#ffe400"/>
<stop offset="31.82%" stop-color="#ffe200"/>
<stop offset="34.34%" stop-color="#ffe000"/>
<stop offset="36.87%" stop-color="#ffde00"/>
<stop offset="39.39%" stop-color="#ffdc00"/>
<stop offset="41.92%" stop-color="#ffdf00"/>
<stop offset="44.44%" stop-color="#ffe200"/>
<stop offset="46.97%" stop-color="#ffe400"/>
<stop offset="49.49%" stop-color="#ffe600"/>
<stop offset="52.02%" stop-color="#ffe200"/>
<stop offset="54.55%" stop-color="#ffdf00"/>
<stop offset="56.06%" stop-color="#ffd900"/>
<stop offset="57.58%" stop-color="#ffd400"/>
<stop offset="59.6%" stop-color="#ffd600"/>
<stop offset="61.62%" stop-color="#ffd900"/>
<stop offset="63.64%" stop-color="#ffde00"/>
<stop offset="65.66%" stop-color="#ffe400"/>
<stop offset="67.68%" stop-color="#ffe700"/>
<stop offset="69.7%" stop-color="#ffea00"/>
<stop offset="74.75%" stop-color="#ffed00"/>
<stop offset="79.8%" stop-color="#fff000"/>
<stop offset="84.85%" stop-color="#fff100"/>
<stop offset="89.9%" stop-color="#fff200"/>
<stop offset="94.95%" stop-color="#fff000"/>
<stop offset="100%" stop-color="#ffee00"/>
</linearGradient>
<linearGradient id="hg28" gradientUnits="userSpaceOnUse" x1="417.39" y1="0" x2="604.4" y2="0">
<stop offset="0%" stop-color="#ff1900"/>
<stop offset="0.51%" stop-color="#ff2c00"/>
<stop offset="1.01%" stop-color="#ff3e00"/>
<stop offset="2.02%" stop-color="#ff5500"/>
<stop offset="3.03%" stop-color="#ff6c00"/>
<stop offset="4.04%" stop-color="#ff7700"/>
<stop offset="5.05%" stop-color="#ff8100"/>
<stop offset="6.06%" stop-color="#ff8c00"/>
<stop offset="7.07%" stop-color="#ff9300"/>
<stop offset="9.09%" stop-color="#ffa000"/>
<stop offset="11.11%" stop-color="#ffaa00"/>
<stop offset="14.14%" stop-color="#ffb900"/>
<stop offset="17.17%" stop-color="#ffc900"/>
<stop offset="19.19%" stop-color="#ffd400"/>
<stop offset="21.72%" stop-color="#ffda00"/>
<stop offset="24.24%" stop-color="#ffe100"/>
<stop offset="26.77%" stop-color="#ffe200"/>
<stop offset="29.29%" stop-color="#ffe400"/>
<stop offset="31.82%" stop-color="#ffe200"/>
<stop offset="34.34%" stop-color="#ffe100"/>
<stop offset="36.87%" stop-color="#ffde00"/>
<stop offset="39.39%" stop-color="#ffdc00"/>
<stop offset="41.92%" stop-color="#ffdf00"/>
<stop offset="44.44%" stop-color="#ffe200"/>
<stop offset="46.97%" stop-color="#ffe400"/>
<stop offset="49.49%" stop-color="#ffe600"/>
<stop offset="52.02%" stop-color="#ffe200"/>
<stop offset="54.55%" stop-color="#ffde00"/>
<stop offset="56.06%" stop-color="#ffd800"/>
<stop offset="57.58%" stop-color="#ffd200"/>
<stop offset="59.6%" stop-color="#ffd400"/>
<stop offset="61.62%" stop-color="#ffd700"/>
<stop offset="63.64%" stop-color="#ffde00"/>
<stop offset="65.66%" stop-color="#ffe400"/>
<stop offset="67.68%" stop-color="#ffe700"/>
<stop offset="69.7%" stop-color="#ffea00"/>
<stop offset="74.75%" stop-color="#ffed00"/>
<stop offset="79.8%" stop-color="#fff000"/>
<stop offset="84.85%" stop-color="#fff100"/>
<stop offset="89.9%" stop-color="#fff200"/>
<stop offset="94.95%" stop-color="#fff000"/>
<stop offset="100%" stop-color="#ffee00"/>
</linearGradient>
<linearGradient id="hg29" gradientUnits="userSpaceOnUse" x1="417.39" y1="0" x2="604.4" y2="0">
<stop offset="0%" stop-color="#ff1900"/>
<stop offset="0.51%" stop-color="#ff2c00"/>
<stop offset="1.01%" stop-color="#ff3e00"/>
<stop offset="2.02%" stop-color="#ff5500"/>
<stop offset="3.03%" stop-color="#ff6c00"/>
<stop offset="4.04%" stop-color="#ff7700"/>
<stop offset="5.05%" stop-color="#ff8100"/>
<stop offset="6.06%" stop-color="#ff8c00"/>
<stop offset="7.07%" stop-color="#ff9300"/>
<stop offset="9.09%" stop-color="#ffa000"/>
<stop offset="11.11%" stop-color="#ffaa00"/>
<stop offset="14.14%" stop-color="#ffb900"/>
<stop offset="17.17%" stop-color="#ffca00"/>
<stop offset="19.19%" stop-color="#ffd500"/>
<stop offset="21.72%" stop-color="#ffdb00"/>
<stop offset="24.24%" stop-color="#ffe100"/>
<stop offset="26.77%" stop-color="#ffe300"/>
<stop offset="29.29%" stop-color="#ffe400"/>
<stop offset="31.82%" stop-color="#ffe300"/>
<stop offset="34.34%" stop-color="#ffe200"/>
<stop offset="36.87%" stop-color="#ffe000"/>
<stop offset="39.39%" stop-color="#ffdd00"/>
<stop offset="41.92%" stop-color="#ffe000"/>
<stop offset="44.44%" stop-color="#ffe200"/>
<stop offset="46.97%" stop-color="#ffe400"/>
<stop offset="49.49%" stop-color="#ffe600"/>
<stop offset="52.02%" stop-color="#ffe200"/>
<stop offset="54.55%" stop-color="#ffdf00"/>
<stop offset="56.06%" stop-color="#ffd900"/>
<stop offset="57.58%" stop-color="#ffd200"/>
<stop offset="59.6%" stop-color="#ffd500"/>
<stop offset="61.62%" stop-color="#ffd700"/>
<stop offset="63.64%" stop-color="#ffde00"/>
<stop offset="65.66%" stop-color="#ffe400"/>
<stop offset="67.68%" stop-color="#ffe700"/>
<stop offset="69.7%" stop-color="#ffea00"/>
<stop offset="74.75%" stop-color="#ffed00"/>
<stop offset="79.8%" stop-color="#fff000"/>
<stop offset="84.85%" stop-color="#fff000"/>
<stop offset="89.9%" stop-color="#fff200"/>
<stop offset="94.95%" stop-color="#fff000"/>
<stop offset="100%" stop-color="#ffee00"/>
</linearGradient>
<linearGradient id="hg30" gradientUnits="userSpaceOnUse" x1="417.39" y1="0" x2="604.4" y2="0">
<stop offset="0%" stop-color="#ff1900"/>
<stop offset="0.51%" stop-color="#ff2c00"/>
<stop offset="1.01%" stop-color="#ff3e00"/>
<stop offset="2.02%" stop-color="#ff5500"/>
<stop offset="3.03%" stop-color="#ff6c00"/>
<stop offset="4.04%" stop-color="#ff7700"/>
<stop offset="5.05%" stop-color="#ff8100"/>
<stop offset="6.06%" stop-color="#ff8c00"/>
<stop offset="7.07%" stop-color="#ff9300"/>
<stop offset="9.09%" stop-color="#ffa000"/>
<stop offset="11.11%" stop-color="#ffaa00"/>
<stop offset="14.14%" stop-color="#ffb900"/>
<stop offset="17.17%" stop-color="#ffca00"/>
<stop offset="19.19%" stop-color="#ffd600"/>
<stop offset="21.72%" stop-color="#ffdc00"/>
<stop offset="24.24%" stop-color="#ffe200"/>
<stop offset="26.77%" stop-color="#ffe300"/>
<stop offset="29.29%" stop-color="#ffe500"/>
<stop offset="31.82%" stop-color="#ffe400"/>
<stop offset="34.34%" stop-color="#ffe400"/>
<stop offset="36.87%" stop-color="#ffe100"/>
<stop offset="39.39%" stop-color="#ffde00"/>
<stop offset="41.92%" stop-color="#ffe100"/>
<stop offset="44.44%" stop-color="#ffe300"/>
<stop offset="46.97%" stop-color="#ffe400"/>
<stop offset="49.49%" stop-color="#ffe600"/>
<stop offset="52.02%" stop-color="#ffe300"/>
<stop offset="54.55%" stop-color="#ffe000"/>
<stop offset="56.06%" stop-color="#ffd900"/>
<stop offset="57.58%" stop-color="#ffd300"/>
<stop offset="59.6%" stop-color="#ffd500"/>
<stop offset="61.62%" stop-color="#ffd700"/>
<stop offset="63.64%" stop-color="#ffde00"/>
<stop offset="65.66%" stop-color="#ffe500"/>
<stop offset="67.68%" stop-color="#ffe800"/>
<stop offset="69.7%" stop-color="#ffea00"/>
<stop offset="74.75%" stop-color="#ffed00"/>
<stop offset="79.8%" stop-color="#ffef00"/>
<stop offset="84.85%" stop-color="#fff000"/>
<stop offset="89.9%" stop-color="#fff100"/>
<stop offset="94.95%" stop-color="#fff000"/>
<stop offset="100%" stop-color="#ffee00"/>
</linearGradient>
<linearGradient id="hg31" gradientUnits="userSpaceOnUse" x1="417.39" y1="0" x2="604.4" y2="0">
<stop offset="0%" stop-color="#ff1900"/>
<stop offset="0.51%" stop-color="#ff2c00"/>
<stop offset="1.01%" stop-color="#ff3e00"/>
<stop offset="2.02%" stop-color="#ff5500"/>
<stop offset="3.03%" stop-color="#ff6c00"/>
<stop offset="4.04%" stop-color="#ff7700"/>
<stop offset="5.05%" stop-color="#ff8100"/>
<stop offset="6.06%" stop-color="#ff8c00"/>
<stop offset="7.07%" stop-color="#ff9300"/>
<stop offset="9.09%" stop-color="#ffa000"/>
<stop offset="11.11%" stop-color="#ffaa00"/>
<stop offset="14.14%" stop-color="#ffb900"/>
<stop offset="17.17%" stop-color="#ffcb00"/>
<stop offset="19.19%" stop-color="#ffd600"/>
<stop offset="21.72%" stop-color="#ffdc00"/>
<stop offset="24.24%" stop-color="#ffe200"/>
<stop offset="26.77%" stop-color="#ffe400"/>
<stop offset="29.29%" stop-color="#ffe600"/>
<stop offset="31.82%" stop-color="#ffe500"/>
<stop offset="34.34%" stop-color="#ffe500"/>
<stop offset="36.87%" stop-color="#ffe200"/>
<stop offset="39.39%" stop-color="#ffe000"/>
<stop offset="41.92%" stop-color="#ffe200"/>
<stop offset="44.44%" stop-color="#ffe400"/>
<stop offset="46.97%" stop-color="#ffe500"/>
<stop offset="49.49%" stop-color="#ffe600"/>
<stop offset="52.02%" stop-color="#ffe300"/>
<stop offset="54.55%" stop-color="#ffe000"/>
<stop offset="56.06%" stop-color="#ffda00"/>
<stop offset="57.58%" stop-color="#ffd400"/>
<stop offset="59.6%" stop-color="#ffd500"/>
<stop offset="61.62%" stop-color="#ffd700"/>
<stop offset="63.64%" stop-color="#ffde00"/>
<stop offset="65.66%" stop-color="#ffe600"/>
<stop offset="67.68%" stop-color="#ffe800"/>
<stop offset="69.7%" stop-color="#ffeb00"/>
<stop offset="74.75%" stop-color="#ffed00"/>
<stop offset="79.8%" stop-color="#ffee00"/>
<stop offset="84.85%" stop-color="#fff000"/>
<stop offset="89.9%" stop-color="#fff000"/>
<stop offset="94.95%" stop-color="#ffef00"/>
<stop offset="100%" stop-color="#ffee00"/>
</linearGradient>
<linearGradient id="hg32" gradientUnits="userSpaceOnUse" x1="417.39" y1="0" x2="604.4" y2="0">
<stop offset="0%" stop-color="#ff1900"/>
<stop offset="0.51%" stop-color="#ff2c00"/>
<stop offset="1.01%" stop-color="#ff3e00"/>
<stop offset="2.02%" stop-color="#ff5500"/>
<stop offset="3.03%" stop-color="#ff6c00"/>
<stop offset="4.04%" stop-color="#ff7700"/>
<stop offset="5.05%" stop-color="#ff8100"/>
<stop offset="6.06%" stop-color="#ff8c00"/>
<stop offset="7.07%" stop-color="#ff9300"/>
<stop offset="9.09%" stop-color="#ffa000"/>
<stop offset="11.11%" stop-color="#ffaa00"/>
<stop offset="14.14%" stop-color="#ffb900"/>
<stop offset="17.17%" stop-color="#ffcb00"/>
<stop offset="19.19%" stop-color="#ffd700"/>
<stop offset="21.72%" stop-color="#ffdc00"/>
<stop offset="24.24%" stop-color="#ffe200"/>
<stop offset="26.77%" stop-color="#ffe400"/>
<stop offset="29.29%" stop-color="#ffe600"/>
<stop offset="31.82%" stop-color="#ffe600"/>
<stop offset="34.34%" stop-color="#ffe600"/>
<stop offset="36.87%" stop-color="#ffe400"/>
<stop offset="39.39%" stop-color="#ffe100"/>
<stop offset="41.92%" stop-color="#ffe200"/>
<stop offset="44.44%" stop-color="#ffe400"/>
<stop offset="46.97%" stop-color="#ffe500"/>
<stop offset="49.49%" stop-color="#ffe600"/>
<stop offset="52.02%" stop-color="#ffe400"/>
<stop offset="54.55%" stop-color="#ffe100"/>
<stop offset="56.06%" stop-color="#ffda00"/>
<stop offset="57.58%" stop-color="#ffd400"/>
<stop offset="59.6%" stop-color="#ffd600"/>
<stop offset="61.62%" stop-color="#ffd700"/>
<stop offset="63.64%" stop-color="#ffde00"/>
<stop offset="65.66%" stop-color="#ffe600"/>
<stop offset="67.68%" stop-color="#ffe800"/>
<stop offset="69.7%" stop-color="#ffeb00"/>
<stop offset="74.75%" stop-color="#ffec00"/>
<stop offset="79.8%" stop-color="#ffee00"/>
<stop offset="84.85%" stop-color="#ffef00"/>
<stop offset="89.9%" stop-color="#fff000"/>
<stop offset="94.95%" stop-color="#ffef00"/>
<stop offset="100%" stop-color="#ffee00"/>
</linearGradient>
<linearGradient id="hg33" gradientUnits="userSpaceOnUse" x1="417.39" y1="0" x2="604.4" y2="0">
<stop offset="0%" stop-color="#ff1900"/>
<stop offset="0.51%" stop-color="#ff2c00"/>
<stop offset="1.01%" stop-color="#ff3e00"/>
<stop offset="2.02%" stop-color="#ff5500"/>
<stop offset="3.03%" stop-color="#ff6c00"/>
<stop offset="4.04%" stop-color="#ff7700"/>
<stop offset="5.05%" stop-color="#ff8100"/>
<stop offset="6.06%" stop-color="#ff8c00"/>
<stop offset="7.07%" stop-color="#ff9300"/>
<stop offset="9.09%" stop-color="#ffa000"/>
<stop offset="11.11%" stop-color="#ffaa00"/>
<stop offset="14.14%" stop-color="#ffb900"/>
<stop offset="17.17%" stop-color="#ffcb00"/>
<stop offset="19.19%" stop-color="#ffd700"/>
<stop offset="21.72%" stop-color="#ffdd00"/>
<stop offset="24.24%" stop-color="#ffe200"/>
<stop offset="26.77%" stop-color="#ffe400"/>
<stop offset="29.29%" stop-color="#ffe600"/>
<stop offset="31.82%" stop-color="#ffe600"/>
<stop offset="34.34%" stop-color="#ffe600"/>
<stop offset="36.87%" stop-color="#ffe400"/>
<stop offset="39.39%" stop-color="#ffe200"/>
<stop offset="41.92%" stop-color="#ffe300"/>
<stop offset="44.44%" stop-color="#ffe400"/>
<stop offset="46.97%" stop-color="#ffe500"/>
<stop offset="49.49%" stop-color="#ffe600"/>
<stop offset="52.02%" stop-color="#ffe400"/>
<stop offset="54.55%" stop-color="#ffe200"/>
<stop offset="56.06%" stop-color="#ffdc00"/>
<stop offset="57.58%" stop-color="#ffd600"/>
<stop offset="59.6%" stop-color="#ffd800"/>
<stop offset="61.62%" stop-color="#ffda00"/>
<stop offset="63.64%" stop-color="#ffe000"/>
<stop offset="65.66%" stop-color="#ffe600"/>
<stop offset="67.68%" stop-color="#ffe900"/>
<stop offset="69.7%" stop-color="#ffeb00"/>
<stop offset="74.75%" stop-color="#ffec00"/>
<stop offset="79.8%" stop-color="#ffee00"/>
<stop offset="84.85%" stop-color="#ffef00"/>
<stop offset="89.9%" stop-color="#fff000"/>
<stop offset="94.95%" stop-color="#ffef00"/>
<stop offset="100%" stop-color="#ffee00"/>
</linearGradient>
<linearGradient id="hg34" gradientUnits="userSpaceOnUse" x1="417.39" y1="0" x2="604.4" y2="0">
<stop offset="0%" stop-color="#ff1900"/>
<stop offset="0.51%" stop-color="#ff2c00"/>
<stop offset="1.01%" stop-color="#ff3e00"/>
<stop offset="2.02%" stop-color="#ff5500"/>
<stop offset="3.03%" stop-color="#ff6c00"/>
<stop offset="4.04%" stop-color="#ff7700"/>
<stop offset="5.05%" stop-color="#ff8100"/>
<stop offset="6.06%" stop-color="#ff8c00"/>
<stop offset="7.07%" stop-color="#ff9300"/>
<stop offset="9.09%" stop-color="#ffa000"/>
<stop offset="11.11%" stop-color="#ffaa00"/>
<stop offset="14.14%" stop-color="#ffb900"/>
<stop offset="17.17%" stop-color="#ffcb00"/>
<stop offset="19.19%" stop-color="#ffd700"/>
<stop offset="21.72%" stop-color="#ffdd00"/>
<stop offset="24.24%" stop-color="#ffe300"/>
<stop offset="26.77%" stop-color="#ffe400"/>
<stop offset="29.29%" stop-color="#ffe600"/>
<stop offset="31.82%" stop-color="#ffe600"/>
<stop offset="34.34%" stop-color="#ffe700"/>
<stop offset="36.87%" stop-color="#ffe500"/>
<stop offset="39.39%" stop-color="#ffe400"/>
<stop offset="41.92%" stop-color="#ffe400"/>
<stop offset="44.44%" stop-color="#ffe500"/>
<stop offset="46.97%" stop-color="#ffe600"/>
<stop offset="49.49%" stop-color="#ffe600"/>
<stop offset="52.02%" stop-color="#ffe400"/>
<stop offset="54.55%" stop-color="#ffe200"/>
<stop offset="56.06%" stop-color="#ffde00"/>
<stop offset="57.58%" stop-color="#ffd900"/>
<stop offset="59.6%" stop-color="#ffda00"/>
<stop offset="61.62%" stop-color="#ffdc00"/>
<stop offset="63.64%" stop-color="#ffe200"/>
<stop offset="65.66%" stop-color="#ffe700"/>
<stop offset="67.68%" stop-color="#ffe900"/>
<stop offset="69.7%" stop-color="#ffeb00"/>
<stop offset="74.75%" stop-color="#ffec00"/>
<stop offset="79.8%" stop-color="#ffee00"/>
<stop offset="84.85%" stop-color="#ffef00"/>
<stop offset="89.9%" stop-color="#fff000"/>
<stop offset="94.95%" stop-color="#ffef00"/>
<stop offset="100%" stop-color="#ffee00"/>
</linearGradient>
<linearGradient id="hg35" gradientUnits="userSpaceOnUse" x1="417.39" y1="0" x2="604.4" y2="0">
<stop offset="0%" stop-color="#ff1900"/>
<stop offset="0.51%" stop-color="#ff2c00"/>
<stop offset="1.01%" stop-color="#ff3e00"/>
<stop offset="2.02%" stop-color="#ff5500"/>
<stop offset="3.03%" stop-color="#ff6c00"/>
<stop offset="4.04%" stop-color="#ff7700"/>
<stop offset="5.05%" stop-color="#ff8100"/>
<stop offset="6.06%" stop-color="#ff8c00"/>
<stop offset="7.07%" stop-color="#ff9300"/>
<stop offset="9.09%" stop-color="#ffa000"/>
<stop offset="11.11%" stop-color="#ffaa00"/>
<stop offset="14.14%" stop-color="#ffb900"/>
<stop offset="17.17%" stop-color="#ffcb00"/>
<stop offset="19.19%" stop-color="#ffd700"/>
<stop offset="21.72%" stop-color="#ffdd00"/>
<stop offset="24.24%" stop-color="#ffe400"/>
<stop offset="26.77%" stop-color="#ffe500"/>
<stop offset="29.29%" stop-color="#ffe600"/>
<stop offset="31.82%" stop-color="#ffe700"/>
<stop offset="34.34%" stop-color="#ffe800"/>
<stop offset="36.87%" stop-color="#ffe600"/>
<stop offset="39.39%" stop-color="#ffe500"/>
<stop offset="41.92%" stop-color="#ffe500"/>
<stop offset="44.44%" stop-color="#ffe600"/>
<stop offset="46.97%" stop-color="#ffe600"/>
<stop offset="49.49%" stop-color="#ffe600"/>
<stop offset="52.02%" stop-color="#ffe500"/>
<stop offset="54.55%" stop-color="#ffe300"/>
<stop offset="56.06%" stop-color="#ffdf00"/>
<stop offset="57.58%" stop-color="#ffdc00"/>
<stop offset="59.6%" stop-color="#ffdd00"/>
<stop offset="61.62%" stop-color="#ffde00"/>
<stop offset="63.64%" stop-color="#ffe300"/>
<stop offset="65.66%" stop-color="#ffe800"/>
<stop offset="67.68%" stop-color="#ffe900"/>
<stop offset="69.7%" stop-color="#ffeb00"/>
<stop offset="74.75%" stop-color="#ffec00"/>
<stop offset="79.8%" stop-color="#ffee00"/>
<stop offset="84.85%" stop-color="#ffef00"/>
<stop offset="89.9%" stop-color="#fff000"/>
<stop offset="94.95%" stop-color="#ffef00"/>
<stop offset="100%" stop-color="#ffee00"/>
</linearGradient>
<linearGradient id="hg36" gradientUnits="userSpaceOnUse" x1="417.39" y1="0" x2="604.4" y2="0">
<stop offset="0%" stop-color="#ff1900"/>
<stop offset="0.51%" stop-color="#ff2c00"/>
<stop offset="1.01%" stop-color="#ff3e00"/>
<stop offset="2.02%" stop-color="#ff5500"/>
<stop offset="3.03%" stop-color="#ff6c00"/>
<stop offset="4.04%" stop-color="#ff7700"/>
<stop offset="5.05%" stop-color="#ff8100"/>
<stop offset="6.06%" stop-color="#ff8c00"/>
<stop offset="7.07%" stop-color="#ff9300"/>
<stop offset="9.09%" stop-color="#ffa000"/>
<stop offset="11.11%" stop-color="#ffaa00"/>
<stop offset="14.14%" stop-color="#ffb900"/>
<stop offset="17.17%" stop-color="#ffcb00"/>
<stop offset="19.19%" stop-color="#ffd700"/>
<stop offset="21.72%" stop-color="#ffde00"/>
<stop offset="24.24%" stop-color="#ffe400"/>
<stop offset="26.77%" stop-color="#ffe500"/>
<stop offset="29.29%" stop-color="#ffe600"/>
<stop offset="31.82%" stop-color="#ffe700"/>
<stop offset="34.34%" stop-color="#ffe800"/>
<stop offset="36.87%" stop-color="#ffe700"/>
<stop offset="39.39%" stop-color="#ffe600"/>
<stop offset="41.92%" stop-color="#ffe600"/>
<stop offset="44.44%" stop-color="#ffe600"/>
<stop offset="46.97%" stop-color="#ffe600"/>
<stop offset="49.49%" stop-color="#ffe600"/>
<stop offset="52.02%" stop-color="#ffe500"/>
<stop offset="54.55%" stop-color="#ffe400"/>
<stop offset="56.06%" stop-color="#ffe100"/>
<stop offset="57.58%" stop-color="#ffde00"/>
<stop offset="59.6%" stop-color="#ffe000"/>
<stop offset="61.62%" stop-color="#ffe100"/>
<stop offset="63.64%" stop-color="#ffe400"/>
<stop offset="65.66%" stop-color="#ffe800"/>
<stop offset="67.68%" stop-color="#ffea00"/>
<stop offset="69.7%" stop-color="#ffeb00"/>
<stop offset="74.75%" stop-color="#ffec00"/>
<stop offset="79.8%" stop-color="#ffee00"/>
<stop offset="84.85%" stop-color="#ffef00"/>
<stop offset="89.9%" stop-color="#fff000"/>
<stop offset="94.95%" stop-color="#ffef00"/>
<stop offset="100%" stop-color="#ffee00"/>
</linearGradient>
<clipPath id="hclip"><path d="M417.79 219.95 L417.79 64.7 L457.53 64.7 L459.53 66.3 L461.33 68.3 L462.73 69.3 L464.12 68.3 L465.93 66.3 L467.93 64.7 L485.86 64.7 L487.86 66.3 L489.66 68.3 L491.06 69.3 L492.46 68.3 L494.26 66.3 L496.26 64.7 L495.31 64.7 L497.31 66.3 L499.11 68.3 L500.5 69.3 L501.9 68.3 L503.7 66.3 L505.7 64.7 L514.19 64.7 L516.19 66.3 L518 68.3 L519.39 69.3 L520.79 68.3 L522.6 66.3 L524.6 64.7 L533.08 64.7 L535.08 66.3 L536.88 68.3 L538.28 69.3 L539.68 68.3 L541.49 66.3 L543.49 64.7 L551.97 64.7 L553.97 66.3 L555.77 68.3 L557.17 69.3 L558.57 68.3 L560.38 66.3 L562.38 64.7 L570.87 64.7 L572.87 66.3 L574.67 68.3 L576.07 69.3 L577.47 68.3 L579.27 66.3 L581.27 64.7 L589.75 64.7 L591.75 66.3 L593.56 68.3 L594.96 69.3 L596.36 68.3 L598.16 66.3 L600.16 64.7 L604.4 64.7 L604.4 201.4 L601.5 203.2 L599.2 204.6 L594.5 207.8 L589.9 210.1 L587.2 212 L585.6 214 L585.3 216.5 L585.3 219.95 Z"/></clipPath>
<filter id="vb" x="-5%" y="-5%" width="110%" height="110%"><feGaussianBlur stdDeviation="0.6 2.2"/></filter>
</defs>
<g clip-path="url(#hclip)"><g filter="url(#vb)">
<rect x="413.39" y="217.79" width="195.01" height="8.46" fill="url(#hg0)"/>
<rect x="413.39" y="213.48" width="195.01" height="4.61" fill="url(#hg1)"/>
<rect x="413.39" y="209.17" width="195.01" height="4.61" fill="url(#hg2)"/>
<rect x="413.39" y="204.86" width="195.01" height="4.61" fill="url(#hg3)"/>
<rect x="413.39" y="200.54" width="195.01" height="4.61" fill="url(#hg4)"/>
<rect x="413.39" y="196.23" width="195.01" height="4.61" fill="url(#hg5)"/>
<rect x="413.39" y="191.92" width="195.01" height="4.61" fill="url(#hg6)"/>
<rect x="413.39" y="187.61" width="195.01" height="4.61" fill="url(#hg7)"/>
<rect x="413.39" y="183.29" width="195.01" height="4.61" fill="url(#hg8)"/>
<rect x="413.39" y="178.98" width="195.01" height="4.61" fill="url(#hg9)"/>
<rect x="413.39" y="174.67" width="195.01" height="4.61" fill="url(#hg10)"/>
<rect x="413.39" y="170.36" width="195.01" height="4.61" fill="url(#hg11)"/>
<rect x="413.39" y="166.04" width="195.01" height="4.61" fill="url(#hg12)"/>
<rect x="413.39" y="161.73" width="195.01" height="4.61" fill="url(#hg13)"/>
<rect x="413.39" y="157.42" width="195.01" height="4.61" fill="url(#hg14)"/>
<rect x="413.39" y="153.11" width="195.01" height="4.61" fill="url(#hg15)"/>
<rect x="413.39" y="148.79" width="195.01" height="4.61" fill="url(#hg16)"/>
<rect x="413.39" y="144.48" width="195.01" height="4.61" fill="url(#hg17)"/>
<rect x="413.39" y="140.17" width="195.01" height="4.61" fill="url(#hg18)"/>
<rect x="413.39" y="135.86" width="195.01" height="4.61" fill="url(#hg19)"/>
<rect x="413.39" y="131.54" width="195.01" height="4.61" fill="url(#hg20)"/>
<rect x="413.39" y="127.23" width="195.01" height="4.61" fill="url(#hg21)"/>
<rect x="413.39" y="122.92" width="195.01" height="4.61" fill="url(#hg22)"/>
<rect x="413.39" y="118.61" width="195.01" height="4.61" fill="url(#hg23)"/>
<rect x="413.39" y="114.29" width="195.01" height="4.61" fill="url(#hg24)"/>
<rect x="413.39" y="109.98" width="195.01" height="4.61" fill="url(#hg25)"/>
<rect x="413.39" y="105.67" width="195.01" height="4.61" fill="url(#hg26)"/>
<rect x="413.39" y="101.36" width="195.01" height="4.61" fill="url(#hg27)"/>
<rect x="413.39" y="97.04" width="195.01" height="4.61" fill="url(#hg28)"/>
<rect x="413.39" y="92.73" width="195.01" height="4.61" fill="url(#hg29)"/>
<rect x="413.39" y="88.42" width="195.01" height="4.61" fill="url(#hg30)"/>
<rect x="413.39" y="84.11" width="195.01" height="4.61" fill="url(#hg31)"/>
<rect x="413.39" y="79.79" width="195.01" height="4.61" fill="url(#hg32)"/>
<rect x="413.39" y="75.48" width="195.01" height="4.61" fill="url(#hg33)"/>
<rect x="413.39" y="71.17" width="195.01" height="4.61" fill="url(#hg34)"/>
<rect x="413.39" y="66.86" width="195.01" height="4.61" fill="url(#hg35)"/>
<rect x="413.39" y="58.7" width="195.01" height="8.46" fill="url(#hg36)"/>
</g></g>
<path d="M417.39 219.95h0.01M419.28 219.95h0.01M421.17 219.95h0.01M423.06 219.95h0.01M424.94 219.95h0.01M426.83 219.95h0.01M428.72 219.95h0.01M430.61 219.95h0.01M432.5 219.95h0.01M434.39 219.95h0.01M443.83 219.95h0.01M453.28 219.95h0.01M462.73 219.95h0.01M472.17 219.95h0.01M519.39 219.95h0.01M528.84 219.95h0.01M538.28 219.95h0.01M547.73 219.95h0.01M557.17 219.95h0.01M566.62 219.95h0.01M576.07 219.95h0.01M417.39 202.7h0.01M419.28 202.7h0.01M421.17 202.7h0.01M423.06 202.7h0.01M424.94 202.7h0.01M426.83 202.7h0.01M428.72 202.7h0.01M430.61 202.7h0.01M432.5 202.7h0.01M434.39 202.7h0.01M443.83 202.7h0.01M453.28 202.7h0.01M462.73 202.7h0.01M472.17 202.7h0.01M481.62 202.7h0.01M491.06 202.7h0.01M500.5 202.7h0.01M509.95 202.7h0.01M519.39 202.7h0.01M528.84 202.7h0.01M538.28 202.7h0.01M547.73 202.7h0.01M557.17 202.7h0.01M566.62 202.7h0.01M576.07 202.7h0.01M585.51 202.7h0.01M594.96 202.7h0.01M604.4 202.7h0.01M417.39 185.45h0.01M419.28 185.45h0.01M421.17 185.45h0.01M423.06 185.45h0.01M424.94 185.45h0.01M426.83 185.45h0.01M428.72 185.45h0.01M430.61 185.45h0.01M432.5 185.45h0.01M434.39 185.45h0.01M443.83 185.45h0.01M453.28 185.45h0.01M462.73 185.45h0.01M472.17 185.45h0.01M481.62 185.45h0.01M491.06 185.45h0.01M500.5 185.45h0.01M509.95 185.45h0.01M519.39 185.45h0.01M528.84 185.45h0.01M538.28 185.45h0.01M547.73 185.45h0.01M557.17 185.45h0.01M566.62 185.45h0.01M576.07 185.45h0.01M585.51 185.45h0.01M594.96 185.45h0.01M604.4 185.45h0.01M417.39 168.2h0.01M419.28 168.2h0.01M421.17 168.2h0.01M423.06 168.2h0.01M424.94 168.2h0.01M426.83 168.2h0.01M428.72 168.2h0.01M430.61 168.2h0.01M432.5 168.2h0.01M434.39 168.2h0.01M443.83 168.2h0.01M453.28 168.2h0.01M462.73 168.2h0.01M472.17 168.2h0.01M481.62 168.2h0.01M491.06 168.2h0.01M500.5 168.2h0.01M509.95 168.2h0.01M519.39 168.2h0.01M528.84 168.2h0.01M538.28 168.2h0.01M547.73 168.2h0.01M557.17 168.2h0.01M566.62 168.2h0.01M576.07 168.2h0.01M585.51 168.2h0.01M594.96 168.2h0.01M604.4 168.2h0.01M417.39 150.95h0.01M419.28 150.95h0.01M421.17 150.95h0.01M423.06 150.95h0.01M424.94 150.95h0.01M426.83 150.95h0.01M428.72 150.95h0.01M430.61 150.95h0.01M432.5 150.95h0.01M434.39 150.95h0.01M443.83 150.95h0.01M453.28 150.95h0.01M462.73 150.95h0.01M472.17 150.95h0.01M481.62 150.95h0.01M491.06 150.95h0.01M500.5 150.95h0.01M509.95 150.95h0.01M519.39 150.95h0.01M528.84 150.95h0.01M538.28 150.95h0.01M547.73 150.95h0.01M557.17 150.95h0.01M566.62 150.95h0.01M576.07 150.95h0.01M585.51 150.95h0.01M594.96 150.95h0.01M604.4 150.95h0.01M417.39 133.7h0.01M419.28 133.7h0.01M421.17 133.7h0.01M423.06 133.7h0.01M424.94 133.7h0.01M426.83 133.7h0.01M428.72 133.7h0.01M430.61 133.7h0.01M432.5 133.7h0.01M434.39 133.7h0.01M443.83 133.7h0.01M453.28 133.7h0.01M462.73 133.7h0.01M472.17 133.7h0.01M481.62 133.7h0.01M491.06 133.7h0.01M500.5 133.7h0.01M509.95 133.7h0.01M519.39 133.7h0.01M528.84 133.7h0.01M538.28 133.7h0.01M547.73 133.7h0.01M557.17 133.7h0.01M566.62 133.7h0.01M576.07 133.7h0.01M585.51 133.7h0.01M594.96 133.7h0.01M604.4 133.7h0.01M417.39 116.45h0.01M419.28 116.45h0.01M421.17 116.45h0.01M423.06 116.45h0.01M424.94 116.45h0.01M426.83 116.45h0.01M428.72 116.45h0.01M430.61 116.45h0.01M432.5 116.45h0.01M434.39 116.45h0.01M443.83 116.45h0.01M453.28 116.45h0.01M462.73 116.45h0.01M472.17 116.45h0.01M481.62 116.45h0.01M491.06 116.45h0.01M500.5 116.45h0.01M509.95 116.45h0.01M519.39 116.45h0.01M528.84 116.45h0.01M538.28 116.45h0.01M547.73 116.45h0.01M557.17 116.45h0.01M566.62 116.45h0.01M576.07 116.45h0.01M585.51 116.45h0.01M594.96 116.45h0.01M604.4 116.45h0.01M417.39 99.2h0.01M419.28 99.2h0.01M421.17 99.2h0.01M423.06 99.2h0.01M424.94 99.2h0.01M426.83 99.2h0.01M428.72 99.2h0.01M430.61 99.2h0.01M432.5 99.2h0.01M434.39 99.2h0.01M443.83 99.2h0.01M453.28 99.2h0.01M462.73 99.2h0.01M472.17 99.2h0.01M481.62 99.2h0.01M491.06 99.2h0.01M500.5 99.2h0.01M509.95 99.2h0.01M519.39 99.2h0.01M528.84 99.2h0.01M538.28 99.2h0.01M547.73 99.2h0.01M557.17 99.2h0.01M566.62 99.2h0.01M576.07 99.2h0.01M585.51 99.2h0.01M594.96 99.2h0.01M604.4 99.2h0.01M417.39 64.7h0.01M419.28 64.7h0.01M421.17 64.7h0.01M423.06 64.7h0.01M424.94 64.7h0.01M426.83 64.7h0.01M428.72 64.7h0.01M430.61 64.7h0.01M432.5 64.7h0.01M434.39 64.7h0.01M443.83 64.7h0.01M453.28 64.7h0.01M462.73 64.7h0.01M472.17 64.7h0.01M481.62 64.7h0.01M491.06 64.7h0.01M500.5 64.7h0.01M509.95 64.7h0.01M519.39 64.7h0.01M528.84 64.7h0.01M538.28 64.7h0.01M547.73 64.7h0.01M557.17 64.7h0.01M566.62 64.7h0.01M576.07 64.7h0.01M585.51 64.7h0.01M594.96 64.7h0.01M604.4 64.7h0.01" stroke="#5a4010" stroke-width="1.35" stroke-linecap="round" opacity="0.72"/>
<path d="M574.4 114.4L577.4 118.8M574.4 118.8L577.4 114.4" stroke="#111" stroke-width="1.5"/>
<rect x="414.4" y="30.4" width="194" height="223.9" fill="none" stroke="#555" stroke-width="1"/>
<rect x="628.7" y="30.4" width="20.1" height="10.66" fill="#ff0000" stroke="#333" stroke-width="0.6"/>
<rect x="628.7" y="41.06" width="20.1" height="10.66" fill="#ff0d00" stroke="#333" stroke-width="0.6"/>
<rect x="628.7" y="51.72" width="20.1" height="10.66" fill="#ff1a00" stroke="#333" stroke-width="0.6"/>
<rect x="628.7" y="62.39" width="20.1" height="10.66" fill="#ff2600" stroke="#333" stroke-width="0.6"/>
<rect x="628.7" y="73.05" width="20.1" height="10.66" fill="#ff3300" stroke="#333" stroke-width="0.6"/>
<rect x="628.7" y="83.71" width="20.1" height="10.66" fill="#ff4000" stroke="#333" stroke-width="0.6"/>
<rect x="628.7" y="94.37" width="20.1" height="10.66" fill="#ff4c00" stroke="#333" stroke-width="0.6"/>
<rect x="628.7" y="105.03" width="20.1" height="10.66" fill="#ff5900" stroke="#333" stroke-width="0.6"/>
<rect x="628.7" y="115.7" width="20.1" height="10.66" fill="#ff6600" stroke="#333" stroke-width="0.6"/>
<rect x="628.7" y="126.36" width="20.1" height="10.66" fill="#ff7300" stroke="#333" stroke-width="0.6"/>
<rect x="628.7" y="137.02" width="20.1" height="10.66" fill="#ff8000" stroke="#333" stroke-width="0.6"/>
<rect x="628.7" y="147.68" width="20.1" height="10.66" fill="#ff8c00" stroke="#333" stroke-width="0.6"/>
<rect x="628.7" y="158.34" width="20.1" height="10.66" fill="#ff9900" stroke="#333" stroke-width="0.6"/>
<rect x="628.7" y="169" width="20.1" height="10.66" fill="#ffa600" stroke="#333" stroke-width="0.6"/>
<rect x="628.7" y="179.67" width="20.1" height="10.66" fill="#ffb200" stroke="#333" stroke-width="0.6"/>
<rect x="628.7" y="190.33" width="20.1" height="10.66" fill="#ffbf00" stroke="#333" stroke-width="0.6"/>
<rect x="628.7" y="200.99" width="20.1" height="10.66" fill="#ffcc00" stroke="#333" stroke-width="0.6"/>
<rect x="628.7" y="211.65" width="20.1" height="10.66" fill="#ffd900" stroke="#333" stroke-width="0.6"/>
<rect x="628.7" y="222.31" width="20.1" height="10.66" fill="#ffe600" stroke="#333" stroke-width="0.6"/>
<rect x="628.7" y="232.98" width="20.1" height="10.66" fill="#fff200" stroke="#333" stroke-width="0.6"/>
<rect x="628.7" y="243.64" width="20.1" height="10.66" fill="#ffff00" stroke="#333" stroke-width="0.6"/>
<rect x="628.7" y="30.4" width="20.1" height="223.9" fill="none" stroke="#444" stroke-width="1"/>
<line x1="648.8" y1="30.4" x2="654" y2="30.4" stroke="#555" stroke-width="1"/>
<text x="658.8" y="34.04" font-size="8.5" text-anchor="start" fill="#1a1a1a" stroke="#1a1a1a" stroke-width="0.28" font-family="Liberation Sans">0.295</text>
<line x1="648.8" y1="83.71" x2="654" y2="83.71" stroke="#555" stroke-width="1"/>
<text x="658.8" y="87.35" font-size="8.5" text-anchor="start" fill="#1a1a1a" stroke="#1a1a1a" stroke-width="0.28" font-family="Liberation Sans">0.290</text>
<line x1="648.8" y1="137.02" x2="654" y2="137.02" stroke="#555" stroke-width="1"/>
<text x="658.8" y="140.66" font-size="8.5" text-anchor="start" fill="#1a1a1a" stroke="#1a1a1a" stroke-width="0.28" font-family="Liberation Sans">0.285</text>
<line x1="648.8" y1="190.33" x2="654" y2="190.33" stroke="#555" stroke-width="1"/>
<text x="658.8" y="193.97" font-size="8.5" text-anchor="start" fill="#1a1a1a" stroke="#1a1a1a" stroke-width="0.28" font-family="Liberation Sans">0.280</text>
<line x1="648.8" y1="243.64" x2="654" y2="243.64" stroke="#555" stroke-width="1"/>
<text x="658.8" y="247.28" font-size="8.5" text-anchor="start" fill="#1a1a1a" stroke="#1a1a1a" stroke-width="0.28" font-family="Liberation Sans">0.275</text>
</g>
<g filter="url(#bb)">
<text x="218.3" y="348.6" font-size="20" text-anchor="start" font-weight="bold" fill="#000" font-family="Liberation Serif">(a)</text>
<text x="481.8" y="348.6" font-size="20" text-anchor="start" font-weight="bold" fill="#000" font-family="Liberation Serif">(b)</text>
<text x="188.3" y="813.2" font-size="22.5" text-anchor="start" font-weight="bold" fill="#000" font-family="Liberation Serif">(c)</text>
<rect x="56.1" y="394.1" width="247.5" height="92.1" fill="none" stroke="#3a3a3a" stroke-width="1"/>
<line x1="49.5" y1="483.4" x2="56.1" y2="483.4" stroke="#3a3a3a" stroke-width="1"/>
<line x1="49.5" y1="460.6" x2="56.1" y2="460.6" stroke="#3a3a3a" stroke-width="1"/>
<line x1="49.5" y1="437.8" x2="56.1" y2="437.8" stroke="#3a3a3a" stroke-width="1"/>
<line x1="49.5" y1="415" x2="56.1" y2="415" stroke="#3a3a3a" stroke-width="1"/>
<text x="40.28" y="483.4" font-size="11.4" text-anchor="middle" fill="#1a1a1a" font-family="Liberation Sans" transform="rotate(-90 40.28 483.4)">0.0</text>
<text x="40.28" y="437.8" font-size="11.4" text-anchor="middle" fill="#1a1a1a" font-family="Liberation Sans" transform="rotate(-90 40.28 437.8)">0.2</text>
<text x="11.3" y="441" font-size="12" text-anchor="middle" fill="#1a1a1a" font-family="Liberation Sans" transform="rotate(-90 11.3 441)">Cause-Specific CHF</text>
<line x1="64.7" y1="486.2" x2="64.7" y2="493.5" stroke="#3a3a3a" stroke-width="1"/>
<text x="64.7" y="512.48" font-size="11.4" text-anchor="middle" fill="#1a1a1a" font-family="Liberation Sans">0</text>
<line x1="97.25" y1="486.2" x2="97.25" y2="493.5" stroke="#3a3a3a" stroke-width="1"/>
<text x="97.25" y="512.48" font-size="11.4" text-anchor="middle" fill="#1a1a1a" font-family="Liberation Sans">20</text>
<line x1="129.8" y1="486.2" x2="129.8" y2="493.5" stroke="#3a3a3a" stroke-width="1"/>
<text x="129.8" y="512.48" font-size="11.4" text-anchor="middle" fill="#1a1a1a" font-family="Liberation Sans">40</text>
<line x1="162.35" y1="486.2" x2="162.35" y2="493.5" stroke="#3a3a3a" stroke-width="1"/>
<text x="162.35" y="512.48" font-size="11.4" text-anchor="middle" fill="#1a1a1a" font-family="Liberation Sans">60</text>
<line x1="194.9" y1="486.2" x2="194.9" y2="493.5" stroke="#3a3a3a" stroke-width="1"/>
<text x="194.9" y="512.48" font-size="11.4" text-anchor="middle" fill="#1a1a1a" font-family="Liberation Sans">80</text>
<line x1="227.45" y1="486.2" x2="227.45" y2="493.5" stroke="#3a3a3a" stroke-width="1"/>
<text x="227.45" y="512.48" font-size="11.4" text-anchor="middle" fill="#1a1a1a" font-family="Liberation Sans">100</text>
<line x1="260" y1="486.2" x2="260" y2="493.5" stroke="#3a3a3a" stroke-width="1"/>
<text x="260" y="512.48" font-size="11.4" text-anchor="middle" fill="#1a1a1a" font-family="Liberation Sans">120</text>
<line x1="292.55" y1="486.2" x2="292.55" y2="493.5" stroke="#3a3a3a" stroke-width="1"/>
<text x="292.55" y="512.48" font-size="11.4" text-anchor="middle" fill="#1a1a1a" font-family="Liberation Sans">140</text>
<text x="179.6" y="540.88" font-size="11.4" text-anchor="middle" fill="#1a1a1a" font-family="Liberation Sans">Time</text>
<polyline points="65.5,483 75,479.2 94,474.5 113,470.7 132,465.9 150.9,461.2 166,457.4 183.6,449.9 198.2,444.7 214.2,436.7 228.8,430.1 243.4,424.3 255.2,419.4 263.7,416.6 270.4,413.2 278,412.3 282.7,410.9 287.4,410.1 294.1,409" fill="none" stroke="#DF536B" stroke-width="2.1" stroke-linejoin="round"/>
<polyline points="65.5,481.1 75,473.5 94,458.3 113,445 128.1,435.5 150,426.5 165.3,419.9 179.2,413.1 193.8,409 208.4,405.3 223,403.1 240,401.9 249.5,400.2 259,399.3 268.5,399 278,398.3 285.5,397.1 294.1,397.2" fill="none" stroke="#000" stroke-width="2.1" stroke-linejoin="round"/>
<rect x="56.5" y="394.1" width="108.3" height="42.2" fill="#fff" stroke="#3a3a3a" stroke-width="1"/>
<line x1="66.8" y1="408.4" x2="89.8" y2="408.4" stroke="#000" stroke-width="2.4"/>
<line x1="66.8" y1="422.8" x2="89.8" y2="422.8" stroke="#DF536B" stroke-width="2.4"/>
<text x="99.7" y="413.28" font-size="11.4" text-anchor="start" fill="#1a1a1a" font-family="Liberation Sans">CSCHF 1</text>
<text x="99.7" y="427.68" font-size="11.4" text-anchor="start" fill="#1a1a1a" font-family="Liberation Sans">CSCHF 2</text>
<rect x="391.4" y="394.1" width="246.8" height="92.2" fill="none" stroke="#3a3a3a" stroke-width="1"/>
<line x1="384.8" y1="484.2" x2="391.4" y2="484.2" stroke="#3a3a3a" stroke-width="1"/>
<line x1="384.8" y1="467.3" x2="391.4" y2="467.3" stroke="#3a3a3a" stroke-width="1"/>
<line x1="384.8" y1="450.4" x2="391.4" y2="450.4" stroke="#3a3a3a" stroke-width="1"/>
<line x1="384.8" y1="433.5" x2="391.4" y2="433.5" stroke="#3a3a3a" stroke-width="1"/>
<line x1="384.8" y1="416.6" x2="391.4" y2="416.6" stroke="#3a3a3a" stroke-width="1"/>
<line x1="384.8" y1="399.7" x2="391.4" y2="399.7" stroke="#3a3a3a" stroke-width="1"/>
<text x="374.98" y="484.2" font-size="11.4" text-anchor="middle" fill="#1a1a1a" font-family="Liberation Sans" transform="rotate(-90 374.98 484.2)">0</text>
<text x="374.98" y="467.3" font-size="11.4" text-anchor="middle" fill="#1a1a1a" font-family="Liberation Sans" transform="rotate(-90 374.98 467.3)">5</text>
<text x="374.98" y="433.5" font-size="11.4" text-anchor="middle" fill="#1a1a1a" font-family="Liberation Sans" transform="rotate(-90 374.98 433.5)">15</text>
<text x="374.98" y="399.7" font-size="11.4" text-anchor="middle" fill="#1a1a1a" font-family="Liberation Sans" transform="rotate(-90 374.98 399.7)">25</text>
<text x="347.1" y="441.2" font-size="12" text-anchor="middle" fill="#1a1a1a" font-family="Liberation Sans" transform="rotate(-90 347.1 441.2)">Probability <tspan dx="1.1">(</tspan><tspan dx="1.1">%</tspan><tspan dx="1.1">)</tspan></text>
<line x1="398.9" y1="486.3" x2="398.9" y2="493.6" stroke="#3a3a3a" stroke-width="1"/>
<text x="398.9" y="512.08" font-size="11.4" text-anchor="middle" fill="#1a1a1a" font-family="Liberation Sans">0</text>
<line x1="431.58" y1="486.3" x2="431.58" y2="493.6" stroke="#3a3a3a" stroke-width="1"/>
<text x="431.58" y="512.08" font-size="11.4" text-anchor="middle" fill="#1a1a1a" font-family="Liberation Sans">20</text>
<line x1="464.26" y1="486.3" x2="464.26" y2="493.6" stroke="#3a3a3a" stroke-width="1"/>
<text x="464.26" y="512.08" font-size="11.4" text-anchor="middle" fill="#1a1a1a" font-family="Liberation Sans">40</text>
<line x1="496.94" y1="486.3" x2="496.94" y2="493.6" stroke="#3a3a3a" stroke-width="1"/>
<text x="496.94" y="512.08" font-size="11.4" text-anchor="middle" fill="#1a1a1a" font-family="Liberation Sans">60</text>
<line x1="529.62" y1="486.3" x2="529.62" y2="493.6" stroke="#3a3a3a" stroke-width="1"/>
<text x="529.62" y="512.08" font-size="11.4" text-anchor="middle" fill="#1a1a1a" font-family="Liberation Sans">80</text>
<line x1="562.3" y1="486.3" x2="562.3" y2="493.6" stroke="#3a3a3a" stroke-width="1"/>
<text x="562.3" y="512.08" font-size="11.4" text-anchor="middle" fill="#1a1a1a" font-family="Liberation Sans">100</text>
<line x1="594.98" y1="486.3" x2="594.98" y2="493.6" stroke="#3a3a3a" stroke-width="1"/>
<text x="594.98" y="512.08" font-size="11.4" text-anchor="middle" fill="#1a1a1a" font-family="Liberation Sans">120</text>
<line x1="627.66" y1="486.3" x2="627.66" y2="493.6" stroke="#3a3a3a" stroke-width="1"/>
<text x="627.66" y="512.08" font-size="11.4" text-anchor="middle" fill="#1a1a1a" font-family="Liberation Sans">140</text>
<text x="513.4" y="541.08" font-size="11.4" text-anchor="middle" fill="#1a1a1a" font-family="Liberation Sans">Time</text>
<polyline points="400.5,482.8 409.6,478.9 424.2,474.5 438.8,470.1 453.4,467.2 468,462.8 482.6,458.5 496.3,454.9 513.8,449 531.3,442.4 548.8,435.9 565,432.2 576,427.8 586.9,424.5 597.8,421.2 603.3,418.7 611,416.8 619.7,416.1 624.1,415 629.6,415.2" fill="none" stroke="#DF536B" stroke-width="2.1" stroke-linejoin="round"/>
<polyline points="400.5,480.8 402.3,476.7 409.6,469.4 419.8,460.7 431.5,450.4 441.7,443.1 451.9,436.6 465,430 479.5,422.7 491.9,417.6 506.5,412.5 521.1,408.1 535.7,405.2 550.3,403 565,401.5 576,400.4 586.9,399.6 597.8,399.3 611,398.2 619.7,397.4 629.6,397.4" fill="none" stroke="#000" stroke-width="2.1" stroke-linejoin="round"/>
<rect x="391.5" y="394.1" width="87" height="42.1" fill="#fff" stroke="#3a3a3a" stroke-width="1"/>
<line x1="401.4" y1="408.4" x2="423.8" y2="408.4" stroke="#000" stroke-width="2.4"/>
<line x1="401.4" y1="422.8" x2="423.8" y2="422.8" stroke="#DF536B" stroke-width="2.4"/>
<text x="433.3" y="413.28" font-size="11.4" text-anchor="start" fill="#1a1a1a" font-family="Liberation Sans">CIF 1</text>
<text x="433.3" y="427.68" font-size="11.4" text-anchor="start" fill="#1a1a1a" font-family="Liberation Sans">CIF 2</text>
<rect x="56.8" y="617" width="246.7" height="91.6" fill="none" stroke="#3a3a3a" stroke-width="1"/>
<line x1="50.2" y1="706.3" x2="56.8" y2="706.3" stroke="#3a3a3a" stroke-width="1"/>
<line x1="50.2" y1="692.8" x2="56.8" y2="692.8" stroke="#3a3a3a" stroke-width="1"/>
<line x1="50.2" y1="679.3" x2="56.8" y2="679.3" stroke="#3a3a3a" stroke-width="1"/>
<line x1="50.2" y1="665.8" x2="56.8" y2="665.8" stroke="#3a3a3a" stroke-width="1"/>
<line x1="50.2" y1="652.3" x2="56.8" y2="652.3" stroke="#3a3a3a" stroke-width="1"/>
<line x1="50.2" y1="638.8" x2="56.8" y2="638.8" stroke="#3a3a3a" stroke-width="1"/>
<line x1="50.2" y1="625.3" x2="56.8" y2="625.3" stroke="#3a3a3a" stroke-width="1"/>
<text x="40.28" y="706.3" font-size="11.4" text-anchor="middle" fill="#1a1a1a" font-family="Liberation Sans" transform="rotate(-90 40.28 706.3)">0</text>
<text x="40.28" y="679.3" font-size="11.4" text-anchor="middle" fill="#1a1a1a" font-family="Liberation Sans" transform="rotate(-90 40.28 679.3)">10</text>
<text x="40.28" y="652.3" font-size="11.4" text-anchor="middle" fill="#1a1a1a" font-family="Liberation Sans" transform="rotate(-90 40.28 652.3)">20</text>
<text x="40.28" y="625.3" font-size="11.4" text-anchor="middle" fill="#1a1a1a" font-family="Liberation Sans" transform="rotate(-90 40.28 625.3)">30</text>
<text x="12.5" y="663.3" font-size="12" text-anchor="middle" fill="#1a1a1a" font-family="Liberation Sans" transform="rotate(-90 12.5 663.3)">Probability <tspan dx="1.1">(</tspan><tspan dx="1.1">%</tspan><tspan dx="1.1">)</tspan></text>
<line x1="64.7" y1="708.6" x2="64.7" y2="715.9" stroke="#3a3a3a" stroke-width="1"/>
<text x="64.7" y="734.88" font-size="11.4" text-anchor="middle" fill="#1a1a1a" font-family="Liberation Sans">0</text>
<line x1="97.25" y1="708.6" x2="97.25" y2="715.9" stroke="#3a3a3a" stroke-width="1"/>
<text x="97.25" y="734.88" font-size="11.4" text-anchor="middle" fill="#1a1a1a" font-family="Liberation Sans">20</text>
<line x1="129.8" y1="708.6" x2="129.8" y2="715.9" stroke="#3a3a3a" stroke-width="1"/>
<text x="129.8" y="734.88" font-size="11.4" text-anchor="middle" fill="#1a1a1a" font-family="Liberation Sans">40</text>
<line x1="162.35" y1="708.6" x2="162.35" y2="715.9" stroke="#3a3a3a" stroke-width="1"/>
<text x="162.35" y="734.88" font-size="11.4" text-anchor="middle" fill="#1a1a1a" font-family="Liberation Sans">60</text>
<line x1="194.9" y1="708.6" x2="194.9" y2="715.9" stroke="#3a3a3a" stroke-width="1"/>
<text x="194.9" y="734.88" font-size="11.4" text-anchor="middle" fill="#1a1a1a" font-family="Liberation Sans">80</text>
<line x1="227.45" y1="708.6" x2="227.45" y2="715.9" stroke="#3a3a3a" stroke-width="1"/>
<text x="227.45" y="734.88" font-size="11.4" text-anchor="middle" fill="#1a1a1a" font-family="Liberation Sans">100</text>
<line x1="260" y1="708.6" x2="260" y2="715.9" stroke="#3a3a3a" stroke-width="1"/>
<text x="260" y="734.88" font-size="11.4" text-anchor="middle" fill="#1a1a1a" font-family="Liberation Sans">120</text>
<line x1="292.55" y1="708.6" x2="292.55" y2="715.9" stroke="#3a3a3a" stroke-width="1"/>
<text x="292.55" y="734.88" font-size="11.4" text-anchor="middle" fill="#1a1a1a" font-family="Liberation Sans">140</text>
<text x="179.4" y="763.78" font-size="11.4" text-anchor="middle" fill="#1a1a1a" font-family="Liberation Sans">Time</text>
<polyline points="65.8,705.2 74.6,702.6 89.2,698.2 103.8,693.8 118.4,689.4 133,685 147.6,680.7 161.7,677.4 173.4,673.3 185,668.6 196.7,664.5 208.4,659.3 220.1,655.2 228.1,652.1 241.3,647.5 254.4,643.5 264.9,639.6 272.8,635.7 280.7,634.3 287.3,633 293.8,632.4" fill="none" stroke="#DF536B" stroke-width="2.1" stroke-linejoin="round"/>
<polyline points="65.8,703.3 74.6,695.3 89.2,683.6 103.8,673.4 118.4,666.1 133,658.8 150,651.7 161.7,648.2 173.4,644.1 185,640 192.6,636.6 207.7,632.5 215,631.2 228.1,628.8 241.3,626.2 254.4,624.5 267.6,622.5 280.7,620.9 293.8,619.9" fill="none" stroke="#000" stroke-width="2.1" stroke-linejoin="round"/>
<rect x="57" y="617.2" width="92.4" height="40.8" fill="#fff" stroke="#3a3a3a" stroke-width="1"/>
<line x1="66.8" y1="631" x2="89.8" y2="631" stroke="#000" stroke-width="2.4"/>
<line x1="66.8" y1="645.2" x2="89.8" y2="645.2" stroke="#DF536B" stroke-width="2.4"/>
<text x="99.7" y="635.88" font-size="11.4" text-anchor="start" fill="#1a1a1a" font-family="Liberation Sans">CPC 1</text>
<text x="99.7" y="650.08" font-size="11.4" text-anchor="start" fill="#1a1a1a" font-family="Liberation Sans">CPC 2</text>
</g>
</svg>
</body></html>
